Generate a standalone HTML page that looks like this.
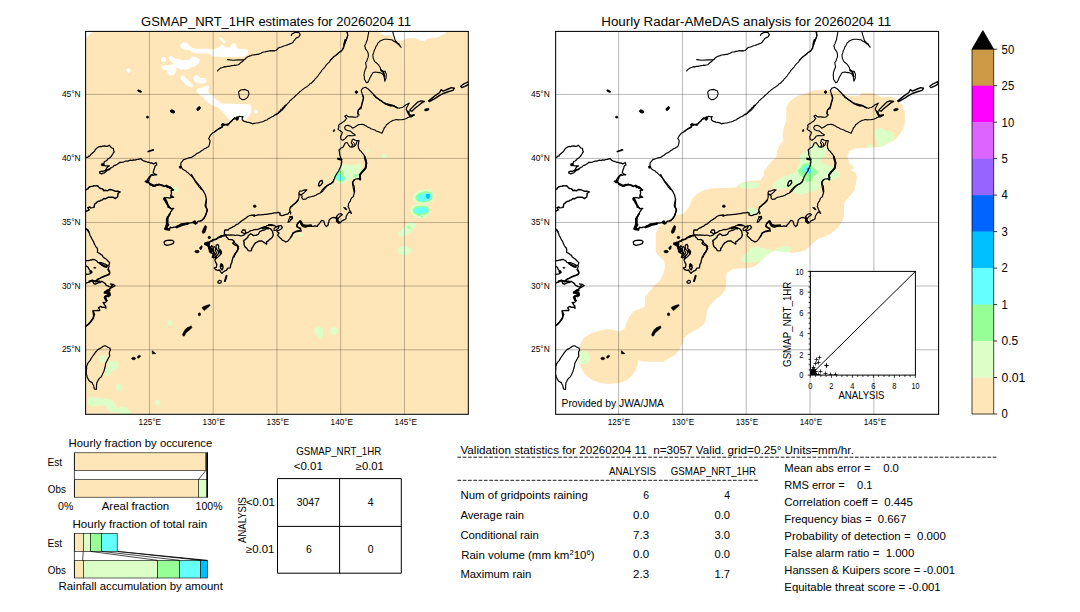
<!DOCTYPE html>
<html><head><meta charset="utf-8"><title>chart</title>
<style>html,body{margin:0;padding:0;background:#fff;}svg{display:block;font-family:"Liberation Sans",sans-serif;fill:#000;}</style></head><body>
<svg width="1080" height="612" viewBox="0 0 1080 612">
<rect width="1080" height="612" fill="#fff"/>
<defs>
<filter id="soft" x="-5%" y="-5%" width="110%" height="110%"><feGaussianBlur stdDeviation="0.55"/></filter>
<clipPath id="mapclip"><rect x="85.6" y="31.4" width="382.7" height="382.9"/></clipPath>
<clipPath id="mapclip2"><rect x="555.65" y="31.4" width="382.95" height="382.9"/></clipPath>
</defs>
<g clip-path="url(#mapclip)">
<rect x="85.5" y="31.5" width="382" height="382" fill="#ffe6b8"/>
<path d="M128.5 67.8L131.1 70.4L128.5 73.1L125.8 70.4Z" fill="#ffffff"/>
<ellipse cx="163.5" cy="59.4" rx="2.50" ry="2.50" fill="#ffffff"/>
<path d="M168.1 57.1L171.1 56.1L175.3 58.5L182.2 59.9L188.5 59.9L191.9 56.4L196.1 57.1L200.0 59.9L198.9 63.3L194.7 66.4L190.6 67.2L188.5 69.6L180.8 69.6L176.7 67.5L176.0 71.7L173.9 75.1L169.7 75.8L167.6 73.1L166.9 70.3L162.8 69.6L161.1 67.2L164.2 65.4L171.1 64.7L173.9 64.0L169.7 59.9Z" fill="#ffffff"/>
<path d="M180.1 46.0L182.2 42.8L185.7 42.2L188.5 44.6L191.9 47.4L196.1 48.8L207.2 48.8L212.8 49.4L218.3 47.4L221.8 44.6L225.3 46.7L229.4 48.1L231.5 43.9L235.0 43.2L235.8 44.6L236.5 48.1L240.0 48.8L246.2 49.2L248.3 50.8L247.6 54.3L244.2 56.4L235.0 57.1L226.7 57.1L212.8 56.4L208.6 53.6L196.1 53.6L191.9 52.2L189.2 50.1L183.6 49.4L180.8 48.1Z" fill="#ffffff"/>
<path d="M219.0 38.3L221.1 36.9L226.0 42.2L223.9 43.6Z" fill="#ffffff"/>
<path d="M180.1 77.9L182.2 75.1L184.3 76.5L193.3 85.6L191.9 87.6L187.8 86.2L182.2 80.7Z" fill="#ffffff"/>
<path d="M193.3 77.9L195.4 75.1L198.2 75.8L200.3 77.9L204.4 77.9L206.9 80.0L205.8 82.5L203.1 83.5L197.5 83.2L194.7 81.4Z" fill="#ffffff"/>
<path d="M196.1 91.1L198.2 88.3L203.1 87.6L207.2 85.6L209.3 86.2L208.3 89.7L208.6 93.2L212.8 94.6L214.2 98.1L218.3 100.8L223.9 105.7L229.4 107.8L235.0 108.5L248.3 108.5L251.8 110.6L249.7 115.4L244.7 120.3L229.4 119.6L223.9 113.3L218.3 107.8L210.0 104.3L205.8 100.8L203.1 97.4L198.9 94.6Z" fill="#ffffff"/>
<ellipse cx="256.0" cy="111.9" rx="1.67" ry="1.67" fill="#ffffff"/>
<path d="M379.3 31.4L381.4 34.2L385.6 35.3L389.7 34.9L392.5 37.6L396.7 40.0L400.8 40.8L404.3 39.7L407.8 38.1L416.1 38.3L420.3 40.8L424.4 40.8L427.2 39.0L431.4 38.1L436.9 37.6L441.1 35.6L445.3 33.5L446.7 31.4Z" fill="#ffffff"/>
<path d="M219.2 103.6L249.7 104.3L251.8 108.5L248.3 112.6L244.9 115.0L228.9 114.7L224.7 111.2Z" fill="#ffffff"/>
<ellipse cx="256.0" cy="111.5" rx="1.81" ry="1.81" fill="#ffffff"/>
<ellipse cx="175.6" cy="189.9" rx="2.79" ry="2.79" fill="#dcffc8"/>
<ellipse cx="169.7" cy="322.9" rx="2.61" ry="2.61" fill="#dcffc8"/>
<path d="M98.9 356.4L103.1 355.0L106.5 357.1L105.8 361.2L102.4 363.3L99.6 360.6Z" fill="#dcffc8"/>
<path d="M107.9 362.6L112.8 360.8L117.6 362.6L118.3 366.8L114.9 370.3L111.4 371.0L110.0 375.1L106.5 376.5L104.4 374.4L105.8 369.6L107.2 366.1Z" fill="#dcffc8"/>
<ellipse cx="118.8" cy="387.6" rx="2.78" ry="3.89" fill="#dcffc8"/>
<path d="M87.5 400.0L89.9 397.6L97.3 397.4L102.2 398.8L105.8 398.6L111.3 400.0L114.4 403.1L116.2 406.8L118.1 408.6L121.8 406.2L126.7 407.4L129.7 411.1L131.0 414.1L119.3 414.1L117.5 411.7L113.2 412.3L108.9 411.1L106.4 408.0L104.6 405.6L100.9 405.0L97.3 406.2L91.1 406.2L88.1 404.3Z" fill="#dcffc8"/>
<ellipse cx="157.6" cy="402.5" rx="2.78" ry="2.78" fill="#dcffc8"/>
<path d="M413.5 194.8L418.1 191.1L425.6 188.9L432.0 190.2L434.4 194.8L433.9 200.4L429.3 203.1L421.9 204.1L416.3 203.1L413.0 199.4Z" fill="#dcffc8"/>
<path d="M415.9 195.2L420.0 192.6L426.5 191.1L431.5 193.0L432.6 197.6L429.6 201.3L422.8 202.6L417.2 201.3L415.4 198.1Z" fill="#96ff96"/>
<path d="M417.2 195.7L420.9 193.9L427.4 193.0L430.7 194.8L430.7 198.9L427.4 200.7L420.9 201.9L417.8 200.0Z" fill="#64ffff"/>
<path d="M426.1 193.9L429.8 193.9L429.8 198.1L427.4 198.9L426.1 197.0Z" fill="#00bfff"/>
<path d="M409.8 208.7L414.4 205.0L423.7 204.1L429.6 205.9L430.7 211.5L427.4 216.1L421.9 218.9L415.4 217.0L410.7 213.3Z" fill="#dcffc8"/>
<path d="M412.6 209.3L416.3 206.3L423.7 205.6L428.3 207.4L429.3 211.5L425.6 214.8L418.1 216.1L413.5 213.3Z" fill="#96ff96"/>
<path d="M414.4 209.6L418.1 207.4L423.7 206.9L427.4 208.7L427.4 211.5L423.7 213.3L418.1 213.7L414.8 212.4Z" fill="#64ffff"/>
<ellipse cx="421.9" cy="217.0" rx="0.93" ry="0.93" fill="#96ff96"/>
<path d="M397.8 232.8L401.5 230.0L405.2 226.3L408.0 222.6L411.7 221.7L415.4 223.5L415.4 227.2L411.7 230.9L408.0 233.7L404.3 236.5L399.6 236.5Z" fill="#dcffc8"/>
<path d="M407.0 226.3L410.7 225.9L409.8 229.1L407.4 228.5Z" fill="#96ff96"/>
<ellipse cx="404.3" cy="250.7" rx="6.48" ry="4.63" fill="#dcffc8"/>
<path d="M314.4 328.5L318.5 326.1L322.8 328.5L322.8 335.0L320.0 339.6L317.2 336.9L314.4 333.1Z" fill="#dcffc8"/>
<ellipse cx="333.9" cy="330.9" rx="3.70" ry="3.70" fill="#dcffc8"/>
<ellipse cx="300.6" cy="235.0" rx="2.22" ry="2.22" fill="#dcffc8"/>
<path d="M333.0 176.0L335.4 172.2L338.6 168.5L342.3 164.8L347.0 163.9L351.7 165.7L356.3 163.9L360.0 164.3L361.4 167.6L361.0 172.2L360.0 176.0L357.2 178.3L352.6 178.8L348.9 179.7L345.1 182.5L340.5 183.9L335.8 182.5L333.5 179.7Z" fill="#dcffc8"/>
<path d="M334.0 175.0L337.7 171.3L342.3 170.4L344.2 173.2L343.7 176.0L345.6 178.3L344.7 180.6L341.4 181.6L337.7 181.1L335.4 178.8Z" fill="#96ff96"/>
<path d="M336.3 177.4L338.6 174.1L340.5 174.1L341.9 176.9L344.7 177.8L343.7 180.2L340.0 180.6L337.2 179.7Z" fill="#64ffff"/>
<ellipse cx="355.4" cy="175.8" rx="1.68" ry="1.68" fill="#96ff96"/>
<ellipse cx="368.0" cy="150.4" rx="1.86" ry="1.86" fill="#dcffc8"/>
<ellipse cx="384.1" cy="156.2" rx="2.33" ry="2.33" fill="#dcffc8"/>
<ellipse cx="414.0" cy="116.6" rx="1.30" ry="1.30" fill="#dcffc8"/>
<path d="M85 31H93L91 33L87 37L85 39.5Z" fill="#ffffff"/>
<line x1="149.55" y1="31" x2="149.55" y2="415" stroke="#000" stroke-opacity="0.26" stroke-width="1"/>
<line x1="213.2" y1="31" x2="213.2" y2="415" stroke="#000" stroke-opacity="0.26" stroke-width="1"/>
<line x1="276.95" y1="31" x2="276.95" y2="415" stroke="#000" stroke-opacity="0.26" stroke-width="1"/>
<line x1="340.7" y1="31" x2="340.7" y2="415" stroke="#000" stroke-opacity="0.26" stroke-width="1"/>
<line x1="404.5" y1="31" x2="404.5" y2="415" stroke="#000" stroke-opacity="0.26" stroke-width="1"/>
<line x1="85" y1="94.4" x2="469" y2="94.4" stroke="#000" stroke-opacity="0.26" stroke-width="1"/>
<line x1="85" y1="158.4" x2="469" y2="158.4" stroke="#000" stroke-opacity="0.26" stroke-width="1"/>
<line x1="85" y1="222.45" x2="469" y2="222.45" stroke="#000" stroke-opacity="0.26" stroke-width="1"/>
<line x1="85" y1="286.0" x2="469" y2="286.0" stroke="#000" stroke-opacity="0.26" stroke-width="1"/>
<line x1="85" y1="349.8" x2="469" y2="349.8" stroke="#000" stroke-opacity="0.26" stroke-width="1"/>
<g fill="none" stroke="#000" stroke-width="1.1" stroke-linejoin="round" stroke-linecap="round">
<path d="M217.5 71.0L218.4 69.9L219.6 68.9L220.6 68.1L221.7 67.7L223.1 67.2L224.5 66.6L226.1 66.8L227.3 66.3L229.0 66.4L230.3 66.0L231.9 65.6L233.2 65.5L234.3 65.2L235.7 65.3L237.1 65.0L238.7 64.7L239.7 63.6L240.5 62.8L241.8 62.1L242.7 61.3L243.8 60.1L245.0 59.3L245.8 58.2L247.0 57.3L248.4 56.5L250.0 55.9L251.1 55.6L252.3 55.0L253.7 54.9L255.4 54.7L256.9 54.4L258.2 54.4L259.5 53.7L261.0 53.3L262.2 52.6L263.4 52.0L265.1 52.0L266.5 51.4L267.7 51.4L268.9 51.0L270.4 50.6L271.7 50.9L273.1 50.6L274.7 50.8L275.9 50.5L277.2 49.4L278.4 48.0L279.7 47.3L281.4 47.0L283.3 46.2L284.3 45.8L285.7 45.5L287.3 44.9L288.4 44.5L289.9 43.9L291.6 43.3L292.8 42.6L293.8 40.9L294.8 39.9L295.7 38.5L297.2 37.6L298.8 37.0L300.2 34.6L298.9 32.6L297.6 32.5L296.0 32.4L294.7 32.4L293.2 33.4L292.1 33.7L291.3 35.5" stroke-width="1.17"/>
<path d="M227.5 59.6L233.1 60.3L238.6 59.9L243.5 59.9" stroke-width="1.08"/>
<path d="M238.6 91.8L240.7 90.0L244.9 89.4L248.3 91.1L249.0 93.9L247.6 97.4L244.9 99.4L242.1 99.7L239.7 97.8L238.9 94.6Z" stroke-width="1.08"/>
<path d="M346.7 31.7L347.1 33.1L347.8 35.1L347.3 36.6L346.8 38.2L346.2 39.6L345.7 41.0L344.7 42.7L344.4 43.7L344.0 45.1L343.5 46.9L342.9 48.5L342.0 50.1L340.8 51.2L339.8 52.1L338.5 52.8L337.7 54.0L336.7 54.8L335.6 55.6L334.3 56.4L333.3 57.2L332.2 58.4L331.2 59.6L330.5 60.5L329.4 62.0L328.4 62.9L327.0 64.1L326.0 65.3L325.1 66.8L324.2 67.8L323.0 69.2L321.8 70.3L321.2 71.6L320.3 72.7L319.2 74.0L318.4 75.3L317.8 76.1L316.7 77.4L316.0 78.1L314.9 79.2L314.1 80.5L312.8 81.5L312.1 82.5L310.8 83.5L309.6 84.1L308.8 85.2L307.5 86.1L306.4 87.0L305.4 87.5L304.1 88.4L303.0 89.3L301.8 90.1L300.7 91.1L299.7 91.8L298.8 92.9L297.7 93.9L296.8 94.7L295.8 95.5L294.8 96.5L293.4 97.8L292.3 98.7L291.3 99.8L289.9 100.8L289.0 102.2L287.8 103.3L286.8 104.4L285.9 105.7L284.8 107.0L283.9 108.1L282.8 109.3L281.7 110.6L280.5 111.4L279.4 112.4L278.4 113.2L277.4 113.8L276.1 114.9" stroke-width="1.08"/>
<path d="M345.3 40.0L344.2 44.6" stroke-width="1.98"/>
<path d="M355.4 92.1L356.4 91.1L357.4 92.1L356.4 93.1Z" stroke-width="1.08"/>
<path d="M347.4 31.7L347.8 35.6L346.4 39.7L344.6 43.9L343.6 48.1L341.8 50.8L337.6 53.6L333.5 57.1L330.0 60.3" stroke-width="1.08"/>
<path d="M368.6 31.7L368.6 33.0L368.2 34.7L368.0 36.1L367.6 37.9L367.4 39.6L366.7 41.2L366.3 42.2L365.9 43.7L365.1 44.9L364.7 46.0L365.3 47.5L365.3 48.7L366.5 50.1L367.4 51.5L368.0 52.7L368.3 54.3L368.4 55.6L368.1 57.4L367.3 59.4L366.8 61.1L365.7 62.5L365.8 64.1L366.1 65.3L366.4 67.0L366.0 68.1L365.1 69.8L364.8 71.1L364.3 72.2L364.3 73.7L363.9 75.3L364.3 76.6L364.3 78.1L364.5 79.5L365.5 80.8L366.4 82.7L367.7 82.4L368.7 80.8L369.4 79.2L370.0 77.8L370.7 76.4L371.5 75.1L372.2 73.8L373.0 72.6L374.3 72.2L375.9 72.0L377.4 72.4L379.5 72.6L380.8 73.0L382.1 73.5L383.1 74.6L384.2 76.0L384.2 77.4L384.5 78.7L384.6 79.9L384.7 81.2L385.4 79.7L386.2 77.8L386.1 76.3L386.4 74.5L385.7 72.8L385.2 71.4L382.6 71.0L380.6 69.8L380.4 68.0L379.6 66.6L378.7 65.2L377.7 64.0L376.5 63.0L375.0 61.9L374.3 60.7L373.8 59.6L373.2 58.3L373.0 56.6L372.8 55.0L373.3 53.7L373.8 52.4L374.1 50.8L374.9 49.3L375.4 48.1L375.7 46.8L376.7 45.6L377.3 44.5L377.8 43.2L379.0 42.1L380.1 41.0L381.8 40.3L383.5 39.5L384.8 39.2L386.1 39.2L387.5 39.3L389.1 39.5L390.5 39.8L391.8 39.8L393.1 40.8L394.1 41.5L395.3 42.0L396.5 42.9L397.4 43.7L398.8 44.5L400.0 46.2L401.1 47.3L400.3 46.3L399.6 45.1L398.8 43.7L397.5 42.9L396.7 42.0L395.6 40.9L394.9 39.6L394.7 38.4L394.2 36.9L393.8 35.6L393.3 34.2L393.1 32.9L392.7 31.8" stroke-width="1.08"/>
<path d="M381.1 70.3L383.5 72.4L384.4 76.5" stroke-width="1.80"/>
<path d="M355.3 92.1L356.4 91.0L357.5 92.1L356.4 93.2Z" stroke-width="1.17"/>
<path d="M409.9 109.9L413.3 106.4L417.5 102.2L421.0 100.8L424.4 101.5L421.7 102.9L418.2 105.7L414.7 108.5L411.9 111.2L409.9 110.6Z" stroke-width="1.35"/>
<path d="M428.6 100.8L432.1 98.1L435.6 95.3L439.7 92.5L441.1 89.7L443.2 91.1L448.1 89.0L451.5 87.6L454.3 88.3L452.9 90.4L448.1 91.8L443.9 93.2L439.7 95.3L435.6 98.1L432.1 100.1L429.3 101.5Z" stroke-width="1.44"/>
<path d="M460.6 86.2L463.3 84.2L466.8 82.5L468.9 81.7L468.9 84.2L465.4 86.2L461.9 87.6Z" stroke-width="1.35"/>
<path d="M85.0 158.1L85.8 157.4L87.7 157.3L88.6 156.1L89.6 156.1L90.5 154.8L91.4 153.9L93.0 152.6L93.9 151.8L94.8 150.8L95.2 149.8L96.6 148.2L97.3 147.8L98.8 146.8L100.0 146.5L101.5 146.6L102.6 146.2L104.7 145.8L106.2 146.4L107.6 146.2L109.2 145.2L111.1 147.4L112.0 148.0L113.3 148.3L113.6 150.4L114.3 151.9L113.4 152.7L112.8 154.0L111.7 155.6L111.3 156.4L110.1 157.5L109.5 158.1L108.3 158.5L107.4 159.8L106.1 161.0L104.3 161.5L104.1 163.0L103.0 164.6L104.3 165.6L106.3 165.9L107.7 165.9L109.4 166.0L107.6 166.8L106.3 168.6L105.8 170.0L107.9 170.2L109.3 168.8L107.9 169.7L106.8 170.7L105.6 171.7L104.5 172.9L103.3 173.1L101.6 173.8L99.5 172.9L99.9 171.5L102.1 171.1L103.1 171.3L104.8 170.7L105.6 170.1L107.5 169.7L109.7 169.5L110.8 167.9L111.2 167.8L113.1 166.8L114.2 165.4L115.5 165.3L117.2 164.3L118.8 163.2L119.4 162.5L121.1 162.4L122.9 162.1L124.0 161.8L125.2 161.2L126.3 161.1L127.8 161.1L129.6 160.4L130.5 160.2L132.3 160.5L133.3 159.8L135.0 160.1L136.3 159.7L137.9 159.4L139.0 159.1L141.0 158.6L141.9 159.5L142.4 160.3L144.8 161.4L145.9 161.5L147.5 162.3L148.8 162.2L150.4 163.0L151.8 162.9L153.6 164.0L156.0 162.4L156.8 164.9L155.5 165.5L154.9 166.6L154.6 168.0L153.9 169.8L153.4 171.7L153.1 172.8L154.5 173.7L156.7 174.8L154.6 174.6L153.0 175.3L151.3 174.7L150.2 176.1L149.9 177.6L149.1 179.4L148.6 180.5L146.5 181.6L145.6 181.2L147.3 181.8L148.8 181.9L149.3 183.0L150.1 184.7L152.1 185.2L153.5 186.0L154.3 186.1L156.1 185.3L156.8 184.8L158.8 185.2L160.4 184.7L162.8 185.1L164.1 186.5L165.8 185.5L166.5 185.2L168.7 187.4L169.9 188.3L171.0 188.1L172.6 189.3L173.0 190.2" stroke-width="1.26"/>
<path d="M148.2 151.5L153.3 149.9" stroke-width="1.80"/>
<path d="M235.0 117.5L233.9 118.4L232.7 119.7L232.1 120.7L231.0 121.5L229.8 122.6L229.2 123.7L228.0 124.3L226.6 124.7L225.5 124.8L224.0 125.2L221.9 124.6L222.2 125.8L222.4 127.2L221.2 127.7L219.6 128.7L218.2 129.1L216.7 130.3L215.5 131.4L214.3 132.3L212.9 132.8L211.7 133.9L210.8 134.8L209.9 136.0L209.4 137.3L208.7 138.5L209.4 139.6L210.1 141.0L209.8 142.4L209.6 143.8L209.2 145.2L208.5 146.8L207.3 147.3L205.8 148.3L204.4 148.6L203.2 149.7L201.9 150.4L200.3 151.7L199.0 152.6L197.3 153.3L195.9 154.2L194.9 155.3L193.5 156.1L192.1 157.1L190.2 157.7L188.9 157.8L187.1 158.5L185.2 159.1L183.5 159.7L182.3 161.3L181.2 162.5L180.8 164.3L180.9 166.0L181.4 167.4L182.4 168.9L183.2 169.4L184.5 170.3L185.8 170.8L186.7 172.0L188.0 172.7L189.1 173.9L190.2 174.9L191.4 176.0L192.8 177.4L193.5 178.5L194.6 179.9L195.2 181.6L196.3 182.9L197.2 184.3L198.2 185.4L198.8 186.6L200.0 187.8L200.6 188.7L201.6 189.7" stroke-width="1.17"/>
<path d="M285.8 105.0L284.7 105.8L284.0 107.1L282.8 107.8L282.3 109.0L281.0 109.4L280.5 110.8L279.3 111.2L278.7 112.3L277.7 113.4L276.3 114.1L274.9 115.0L273.3 116.3L272.3 116.6L270.7 117.4L269.7 118.1L268.2 118.7L267.4 119.8L265.8 120.2L265.0 120.5L263.8 121.2L262.3 121.8L260.9 122.0L259.4 122.5L258.0 122.9L256.6 123.0L255.0 123.3L253.9 123.3L252.7 123.9L251.1 123.1L249.7 122.6L248.1 122.3L246.7 122.1L245.6 121.6L244.2 121.4L243.3 120.8L242.1 119.3L242.4 118.1L243.0 116.6L241.3 116.8L239.4 116.3L238.1 117.4L237.2 118.5L235.7 118.3L233.9 119.1L232.6 119.7L232.1 120.5L231.2 121.5L230.0 122.4L228.7 123.8L227.3 124.3L226.1 124.3L224.4 124.3L223.1 124.7L222.4 126.1L221.1 127.4L219.9 127.9L219.0 128.5L218.0 129.3L216.4 130.4L214.8 131.4" stroke-width="1.17"/>
<path d="M362.8 95.0L363.3 96.4L363.7 97.7L363.4 99.2L362.8 100.7L362.3 101.8L362.0 103.2L361.8 104.7L361.5 106.4L361.0 108.6L359.7 109.0L358.4 109.7L357.8 112.2L358.0 113.8L358.2 114.9L357.8 116.7L355.2 117.3L353.6 117.1L352.0 116.9L350.5 116.8L348.9 116.9L347.5 116.3L346.4 115.1L344.8 116.3L346.7 118.4L345.8 119.3L344.9 120.7L343.8 121.5L342.4 122.4L341.4 123.3L339.9 124.0L338.4 125.3L339.0 127.0L338.0 129.1L338.9 129.9L340.2 130.7L341.1 131.6L342.3 132.3L341.7 134.4L340.6 136.8L341.0 139.4L342.9 140.3L343.8 139.5L345.2 138.6L346.2 137.5L346.9 136.3L348.3 135.8L349.7 135.6L351.5 135.8L353.1 135.7L355.4 135.0L354.1 134.1L352.5 133.2L351.6 132.1L350.4 131.1L348.8 130.7L347.6 130.6L345.2 129.4L344.6 127.5L345.5 125.9L348.0 125.3L349.4 125.9L350.7 126.3L351.7 127.3L352.6 128.2L354.9 127.0L356.0 126.2L357.1 125.4L358.7 124.6L360.3 124.5L362.1 124.4L363.6 124.6L365.1 125.5L366.3 126.1L367.3 126.7L368.7 127.4L370.1 128.1L371.0 128.7L372.6 129.3L373.5 129.5L374.8 130.0L376.3 130.9L377.5 131.4L378.7 131.7L380.1 132.4L382.0 133.2L382.5 132.1L383.1 130.7L383.7 129.5L384.2 128.0L385.2 127.0L386.0 125.9L386.4 124.8L387.9 123.8L389.3 122.6L391.0 121.4L392.8 120.4L394.6 120.0L396.1 119.5L398.3 119.9L399.9 119.7L401.7 119.7L403.2 119.4L404.9 119.0L406.5 118.5L407.9 117.5L409.5 116.9L411.5 116.9L412.7 116.1L414.1 115.1L412.5 115.2L410.7 115.4L409.8 114.4L408.6 113.4L409.3 112.1L407.7 111.3L406.1 109.6L406.5 108.0L407.1 106.8L407.9 105.5L408.4 104.2L409.2 103.1L407.6 104.0L406.0 104.7L404.9 105.7L403.4 106.6L402.6 107.5L400.6 107.7L399.2 108.2L397.6 107.7L396.2 107.5L395.0 106.5L393.5 105.6L391.9 105.3L389.7 105.0L387.8 104.3L386.3 104.0L385.0 103.0L383.5 102.4L382.2 101.4L381.1 100.5L379.9 100.1L378.7 99.2L377.6 98.4L376.3 97.7L375.4 97.0L374.6 95.9L373.6 95.1" stroke-width="1.12"/>
<path d="M407.5 111.6L409.9 116.2L414.0 115.0" stroke-width="1.80"/>
<path d="M387.0 104.1L393.6 105.9L397.3 107.8" stroke-width="1.62"/>
<path d="M320.9 192.0L322.3 189.8L323.6 188.7L324.8 187.2L326.2 186.3L327.5 185.3L328.6 184.7L329.8 184.0L331.3 183.5L332.2 182.4L333.0 181.5L333.8 179.9L334.5 178.5L335.0 176.7L336.0 175.0L336.6 174.2L337.2 172.9L338.0 171.9L339.0 170.5L339.2 169.3L340.0 168.1L340.6 166.5L341.4 164.8L341.5 163.4L341.8 161.6L341.4 160.0L340.8 158.5L340.4 156.7L339.9 155.4L339.6 154.1L339.5 152.8L339.3 151.2L339.0 150.0L340.2 149.0L340.8 148.2L343.2 147.0L344.2 144.9L345.1 143.0L347.0 142.5L348.3 144.5L349.0 145.5L349.9 146.8L351.6 147.0L352.6 144.6L351.3 142.9L351.8 141.4L352.1 140.0L353.5 139.1L354.7 140.0L356.2 140.5L357.6 140.6L359.1 140.6L358.8 141.9L358.5 143.5L358.1 145.2L358.4 146.8L358.5 148.2L359.2 149.2L359.8 150.6L361.0 151.2L361.8 152.3L362.9 153.7L363.8 154.9L364.9 156.5L365.1 158.2L365.9 159.8L366.3 161.5L366.7 163.1L366.3 164.4L366.4 165.8L365.9 167.3L365.5 168.4L364.5 169.5L363.8 170.7L362.6 171.6L361.4 172.7L360.5 173.8L359.4 174.7L360.5 176.9L360.3 178.4L360.0 179.7L358.4 178.6L355.9 179.0L354.6 179.8L353.8 180.8L352.5 183.2L352.7 184.6L352.9 186.0L353.3 187.9L353.6 189.6L354.2 192.0" stroke-width="1.17"/>
<path d="M351.7 147.1L354.0 146.6L355.8 144.8L356.8 142.0L357.2 140.6" stroke-width="1.08"/>
<path d="M353.1 142.0L354.6 143.8L354.0 145.7" stroke-width="0.99"/>
<path d="M338.2 158.8L341.4 159.3" stroke-width="2.34"/>
<path d="M364.7 156.9L366.3 162.9L365.6 168.1L361.9 172.2L359.9 175.0L360.2 179.5" stroke-width="1.98"/>
<path d="M333.8 179.5L333.3 182.0L332.0 182.8L330.9 183.7L329.7 184.3L328.3 185.1L327.0 186.0L325.9 187.2L325.1 188.2L324.2 189.1L323.4 190.3L322.2 191.5L320.5 192.7L319.7 193.3L318.0 193.9L316.8 194.6L315.9 195.2L314.6 195.7L313.5 196.1L311.7 196.5L310.1 197.0L308.7 197.2L307.3 197.7L305.9 199.2L304.3 199.2L303.2 199.5L301.7 197.6L302.2 196.0L300.3 194.8L298.8 193.0L299.7 191.1L301.2 191.1L302.4 190.7L303.8 190.1L305.5 189.8L306.9 189.8L305.1 191.6L303.5 193.2L301.9 194.4L300.2 194.7L298.9 193.8L298.9 195.1L299.1 196.8L298.7 198.4L298.2 199.7L297.1 200.7L296.1 202.2L294.8 203.4L293.1 204.8L292.2 205.8L291.0 206.4L290.1 207.6" stroke-width="1.17"/>
<path d="M318.4 185.6L319.1 182.8L320.3 180.9L322.1 180.5L322.6 182.8L321.2 184.7L319.3 186.1Z" stroke-width="1.35"/>
<path d="M354.2 179.5L353.4 180.9L352.4 182.1L353.1 183.0L353.1 184.7L354.0 185.8L354.3 187.6L354.4 189.5L354.7 191.0L354.3 192.6L354.0 194.1L353.5 195.5L353.2 196.8L351.5 198.1L350.7 199.7L350.3 201.1L349.4 202.2L348.4 204.0L348.5 205.3L348.1 206.6L348.9 208.1L349.2 209.2L350.0 210.9L350.9 212.2L351.5 213.5L350.4 212.6L348.9 212.0L348.2 213.1L347.4 214.2L346.1 216.5L346.0 218.8L344.0 219.9L341.9 220.9L340.4 222.6L338.3 223.1L337.5 222.3L336.4 221.1L336.5 219.4L336.1 218.3L337.0 215.7L337.8 215.0L339.0 214.0L341.0 213.7L342.3 214.8L341.0 215.8L340.0 216.3L338.4 218.2L337.8 220.3" stroke-width="1.17"/>
<path d="M336.1 218.2L333.6 217.4L331.4 218.0L329.5 219.6L328.9 220.7L328.9 222.3L328.1 223.8L328.2 225.0L326.4 226.5L324.9 224.9L324.4 223.1L323.7 221.0L321.7 220.4L320.9 221.4L320.1 222.5L319.3 223.8L318.3 224.4L317.3 226.4L314.9 225.8L313.3 226.3L311.4 226.4L309.8 226.0L307.7 226.3L306.1 227.0L304.8 227.1L303.6 226.8L302.2 226.0L301.4 224.7L301.0 224.1L301.0 221.2L299.6 220.9L298.6 223.1L297.2 224.4L296.7 226.7L298.9 227.8L300.4 228.7L301.3 231.0L299.0 231.1L297.5 231.6L295.8 231.6L294.5 232.4L293.2 233.3L292.4 234.5L292.0 235.6L291.5 236.8" stroke-width="1.26"/>
<path d="M301.0 222.4L302.6 225.2L306.3 225.8L310.9 225.4" stroke-width="2.34"/>
<path d="M336.6 217.2L337.5 221.0L339.3 222.4" stroke-width="1.98"/>
<path d="M289.5 211.2L290.9 212.6L290.5 214.0" stroke-width="1.17"/>
<path d="M289.5 216.8L291.9 217.2L292.3 218.6L290.5 219.6" stroke-width="1.17"/>
<path d="M206.5 199.5L205.6 202.8L205.1 205.6L206.5 208.4L207.4 210.2L206.5 213.0L205.6 215.8L204.2 218.2L202.3 220.0L200.0 221.2" stroke-width="1.26"/>
<path d="M224.7 230.7L224.9 230.0L226.4 230.0L228.1 230.0L229.1 228.8L230.5 228.1L232.1 227.4L233.2 226.6L234.6 226.1L235.8 225.1L236.8 224.3L238.3 223.8L239.2 223.0L240.5 221.8L241.7 220.8L243.3 219.9L244.2 219.1L245.5 218.4L246.6 217.5L247.7 216.5L249.4 215.7L250.7 215.3L252.3 215.2L253.9 215.6L256.1 215.4L257.5 215.0L259.3 214.8L260.6 214.8L262.2 214.6L263.5 214.6L264.5 214.3L266.3 214.4L267.3 214.1L269.1 213.8L270.3 213.6L271.5 213.6L273.2 213.1L274.3 212.8L276.4 212.8L278.1 212.4L280.1 213.1L279.8 214.9L281.8 215.6L283.4 215.3L284.8 214.7L286.3 214.3L287.7 214.1L288.7 212.8L290.1 212.1L289.6 209.7L289.9 208.8L290.7 207.3L291.9 206.3L292.9 205.1L294.5 204.0L295.7 202.9L297.2 201.6L298.1 200.1" stroke-width="1.26"/>
<path d="M224.7 230.7L224.3 233.2L225.3 235.1L228.2 234.9L229.3 235.1L230.7 234.9L232.9 235.1L234.3 235.1L235.7 235.5L237.0 235.0L239.0 235.3L240.2 235.9L242.2 235.6L243.9 235.1L244.9 234.1L242.8 232.8L241.4 232.1L242.7 230.0L245.1 230.0L245.7 232.3L244.9 234.0L246.7 232.9L248.1 232.4L249.3 231.4L250.9 230.7L252.3 230.5L254.2 229.7L255.2 229.5L256.8 229.6L258.4 229.1L259.8 228.6L260.7 228.1L262.7 228.0L263.6 227.3L265.3 226.9L267.1 225.6L268.9 225.4L270.5 224.7L272.9 225.4L274.8 225.7L276.5 226.8L278.4 225.8L279.7 225.7L281.1 225.5L282.4 227.3L281.5 228.7L280.3 229.5L279.4 230.1L276.7 230.8L277.5 231.9L279.0 233.1L278.1 234.4L277.8 235.6L278.7 236.6L280.0 237.7L281.1 238.7L282.2 240.1L284.2 241.0L285.7 242.0L287.8 241.1L288.9 239.8L289.9 238.6L290.7 237.1L291.5 235.9L292.3 234.5L292.8 233.0L294.7 232.0L295.9 231.2L297.2 231.2L298.6 230.7L300.4 230.0" stroke-width="1.26"/>
<path d="M262.4 227.9L265.2 227.5L268.0 228.4" stroke-width="2.34"/>
<path d="M268.9 225.0L273.6 225.3" stroke-width="1.80"/>
<path d="M274.0 228.4L276.4 226.8L279.1 226.5L278.2 228.4L275.6 230.5L274.0 230.3Z" stroke-width="1.17"/>
<path d="M288.0 222.3L288.9 219.6L290.3 216.8L292.2 216.3L292.6 218.2L290.8 220.0L289.4 221.9Z" stroke-width="1.17"/>
<path d="M300.6 221.2L297.8 222.8L296.8 225.6L298.7 227.9L300.6 228.1" stroke-width="1.35"/>
<path d="M244.2 242.4L243.5 240.9L244.1 240.1L245.4 239.6L246.3 238.5L247.8 237.4L248.2 235.7L249.5 234.8L250.8 233.7L252.1 234.5L253.2 235.5L254.6 235.3L256.0 235.3L258.4 234.2L259.1 232.8L259.7 231.7L261.0 231.2L262.4 230.2L264.0 230.2L265.2 229.5L266.5 228.7L268.1 227.8L269.3 228.4L270.7 228.8L271.9 230.5L272.6 231.6L272.9 233.2L273.3 235.0L272.9 235.8L272.4 237.1L271.0 238.6L269.6 239.4L268.2 241.0L266.7 241.6L266.6 244.2L265.7 243.5L264.3 242.7L262.9 241.7L261.6 240.9L260.0 241.0L258.6 241.2L257.4 241.9L255.6 242.8L254.6 244.0L253.6 245.4L252.9 246.8L251.6 248.5L251.5 250.7L249.8 250.9L248.2 250.6L247.8 249.8L246.6 248.2L245.9 247.6L244.9 246.8L244.0 244.2L244.0 242.2Z" stroke-width="1.35"/>
<path d="M224.7 234.9L223.1 235.4L221.1 235.6L220.1 236.4L218.5 237.2L217.6 237.5L216.2 239.4L214.5 240.0L212.6 240.3L211.9 241.3L210.4 241.6L208.8 242.4L207.2 243.0L206.3 244.2L205.2 244.6L206.6 245.3L208.1 246.2L208.5 247.2L209.1 249.2L209.4 250.6L209.6 251.2L211.0 252.9L213.2 253.9L213.7 255.7L212.2 257.3" stroke-width="1.26"/>
<path d="M225.6 234.9L226.6 237.2L227.7 238.1L228.6 239.3L230.3 239.6L231.6 239.6L232.7 240.0L234.2 241.2L233.2 242.4L232.8 243.2L233.8 244.3L234.9 245.0L235.9 245.3L237.4 245.9L237.8 247.5L238.6 248.6L237.8 249.4L237.2 250.6L236.8 251.8L235.9 252.8L235.2 254.4L234.4 255.6L233.8 257.2" stroke-width="1.35"/>
<path d="M233.8 242.4L235.1 243.2L236.3 244.2L237.3 245.1L238.5 246.5L237.9 248.2L237.7 249.3L237.5 250.3L236.5 252.0L235.8 252.7L234.6 254.2L233.9 255.8L233.1 257.2L232.8 258.3L232.3 259.9L232.0 261.4L231.7 263.0L230.9 264.2L230.6 265.5L230.3 267.8L227.7 268.1L226.6 270.1L225.5 270.7L224.5 271.2L223.2 272.0L221.9 273.4L220.6 271.9L219.5 270.0L217.8 270.4L215.5 269.6L214.3 267.9L216.3 267.3L216.8 264.7L216.6 263.8L215.9 262.7L215.2 260.9L215.0 259.8L216.4 257.7L214.7 257.7L213.4 257.2L213.1 254.9L214.8 253.4L213.5 251.6L213.2 250.3L212.0 248.6L210.9 248.1L209.9 247.5L208.3 245.6L207.6 244.8L206.5 244.4L205.0 244.1L206.2 243.5L207.6 242.1L209.3 242.2L210.3 241.2L212.1 240.7L213.0 239.5L214.9 239.4L216.8 239.0L218.4 237.8L219.6 237.4L220.9 237.1L222.4 236.1L224.8 235.9" stroke-width="1.35"/>
<path d="M221.2 263.9L222.6 264.8L223.1 267.6L222.1 269.9L220.7 268.5L220.3 266.2Z" stroke-width="1.35"/>
<path d="M204.9 244.4L206.2 243.1L208.5 242.6L209.4 244.0L208.5 245.3L209.8 246.7L208.9 248.5L210.3 249.8L209.4 251.6L210.7 252.5L212.1 251.2L211.6 249.4L210.7 247.6L211.6 245.8L213.0 247.1L213.4 249.4L213.0 251.6L214.3 253.0L213.4 254.8L212.5 256.6L213.4 257.9L214.8 257.0L216.1 255.7" stroke-width="1.35"/>
<path d="M216.1 245.3L217.9 244.4L218.8 246.2L218.4 248.5L220.2 249.8L221.5 251.6L221.1 253.9L219.7 255.2L218.4 256.6L217.0 257.9L215.7 257.5L216.6 255.7L217.9 254.3L218.8 252.5L217.9 250.7L216.6 249.4L216.1 247.6Z" stroke-width="1.26"/>
<path d="M214.3 246.7L215.7 248.5L215.2 250.7L216.6 252.5L215.7 254.3L214.3 255.2" stroke-width="1.17"/>
<path d="M205.3 243.5L208.9 244.0" stroke-width="2.70"/>
<path d="M208.5 245.8L211.2 252.1" stroke-width="1.98"/>
<path d="M219.3 250.3L220.6 253.4" stroke-width="1.80"/>
<path d="M221.1 264.6L221.8 266.0" stroke-width="2.34"/>
<path d="M226.5 275.8L225.8 278.3L224.8 281.1" stroke-width="1.98"/>
<path d="M217.9 281.4L219.6 280.2L221.3 281.1L221.1 282.7L219.4 283.4L217.9 282.7Z" stroke-width="1.17"/>
<path d="M152.3 174.5L151.2 175.7L149.3 176.8L148.8 177.7L147.7 179.4L147.1 180.4L146.8 181.1L145.2 181.5L147.0 182.6L148.4 182.5L150.5 184.5L151.5 184.3L152.3 184.6L154.1 186.3L155.4 185.5L157.2 185.4L159.0 184.0L161.0 185.2L163.1 186.0L164.0 186.4L165.5 185.8L167.5 187.5L170.1 186.9L170.4 188.0L171.5 188.9L173.6 189.8L171.0 190.6L171.5 191.9L171.4 193.4L170.6 196.2L172.3 196.2L173.6 197.3L172.2 197.4L170.5 197.7L169.9 198.1L167.3 197.6L166.8 197.6L164.5 197.8L163.9 199.8L165.0 200.5L166.3 202.2L166.7 203.9L167.4 204.5L167.7 205.6L168.1 207.4L170.2 207.6L170.6 208.7L173.7 208.5L172.0 209.5L171.8 210.6L170.3 212.4L170.2 213.7L169.0 215.1L168.3 216.6L167.4 216.9L167.3 218.9L167.1 220.4L167.5 222.0L167.2 223.0L167.6 223.9L168.7 224.8L167.9 225.8L166.7 227.7L165.4 227.8L164.8 229.1L167.5 229.4L169.5 228.9L170.4 227.1L171.2 227.6L172.8 227.5L174.0 227.1L175.8 227.0L177.5 225.8L178.2 225.7L179.9 224.9L180.9 223.9L182.4 223.8L184.5 223.9L185.8 224.2L187.3 224.0L188.5 222.9L189.8 223.1L190.8 222.8L192.9 222.5L193.9 221.3L195.0 221.0L195.4 221.7L196.8 223.4L197.0 222.4L198.3 221.2L200.0 220.9L201.8 220.5" stroke-width="1.35"/>
<path d="M150.0 183.8L153.7 186.0L157.0 184.8" stroke-width="2.07"/>
<path d="M167.2 186.2L171.0 188.0" stroke-width="1.98"/>
<path d="M164.5 198.3L166.8 202.9" stroke-width="2.52"/>
<path d="M166.8 202.9L169.6 207.6" stroke-width="1.80"/>
<path d="M169.6 214.1L167.2 218.8" stroke-width="1.80"/>
<path d="M167.2 218.8L167.2 224.3L165.8 228.5" stroke-width="2.70"/>
<path d="M165.8 229.0L169.1 229.5" stroke-width="2.52"/>
<path d="M176.6 227.1L182.1 224.8L187.7 223.6" stroke-width="2.52"/>
<path d="M193.8 222.3L195.6 223.4" stroke-width="2.52"/>
<path d="M191.5 174.5L193.3 177.8L195.2 180.6L197.5 183.4L199.8 186.2L202.2 189.4L204.0 192.2L205.4 195.0L206.2 198.3L206.4 201.5L205.9 204.8L206.2 207.6L207.1 209.0L206.8 211.3L205.9 214.1L205.0 216.0L203.6 218.3L201.7 220.6" stroke-width="1.26"/>
<path d="M85.0 190.4L86.0 189.6L88.0 188.8L88.3 187.9L89.9 186.7L91.5 186.4L92.9 186.2L94.0 185.8L95.3 185.9L97.2 185.6L98.2 186.4L99.4 187.9L100.6 188.5L102.0 188.6L103.4 189.9L103.7 190.7L105.4 190.3L107.3 190.9L108.6 190.0L110.0 189.5L110.8 189.7L112.0 189.8L113.3 190.3L115.0 191.2L116.6 191.3L118.0 191.1L120.1 191.9L118.0 193.4L117.9 195.7L117.5 197.0L116.3 197.7L115.5 198.5L114.1 197.8L112.8 197.2L111.6 197.2L108.8 197.3L108.2 197.3L106.6 198.2L105.8 198.7L103.7 198.5L102.3 199.9L101.0 200.2L99.9 201.0L98.8 201.2L97.0 202.0L95.9 203.2L95.2 203.4L94.4 204.9L94.3 207.0L92.7 207.6L90.7 207.9L89.8 207.0L87.8 207.7L89.1 209.8L87.2 211.0L84.6 211.3" stroke-width="1.44"/>
<path d="M85.0 228.1L85.9 228.5L87.8 229.9L89.2 232.0" stroke-width="1.26"/>
<path d="M85.0 228.3L86.2 229.5L87.4 229.8L88.0 231.0L88.9 232.5L89.6 233.7L90.0 235.5L90.9 236.8L92.0 239.1L92.6 240.1L93.7 241.8L94.2 243.6L95.1 245.3L96.2 247.2L97.2 248.0L97.6 249.9L97.4 252.2L98.4 252.8L99.3 253.2L101.0 254.6L102.5 255.4L102.8 256.6L103.8 257.6L104.9 258.2L106.0 258.9L106.8 259.8L108.2 261.2L109.7 262.6L109.0 264.9L107.2 266.2L104.7 266.2L103.6 265.2L102.3 264.4L100.8 263.6L99.8 263.0L97.7 262.3L96.5 260.7L94.6 259.7L92.6 259.4L91.6 260.0L90.0 260.2L88.7 260.6L86.6 260.7L85.3 261.0" stroke-width="1.26"/>
<path d="M99.0 262.7L101.8 262.7L105.0 264.1L107.8 265.5L105.9 266.4L102.7 265.5L99.9 264.1Z" stroke-width="1.17"/>
<path d="M101.3 265.0L104.6 266.9L106.9 267.4" stroke-width="1.17"/>
<path d="M109.2 266.0L108.3 268.8L109.7 271.6L109.7 273.4L107.3 274.8L104.6 275.7L101.8 277.1L99.4 278.5L97.1 280.4L95.7 282.0" stroke-width="1.17"/>
<path d="M85.0 265.8L86.4 266.0L88.3 267.4L89.2 269.7L91.1 271.1L92.0 272.5L89.7 273.9L86.9 274.3L85.0 274.2" stroke-width="1.26"/>
<path d="M89.2 281.3L92.4 280.4L94.3 281.3L99.9 281.3" stroke-width="1.80"/>
<path d="M164.1 241.8L166.0 240.6L169.3 240.1L172.5 240.4L173.9 241.8L173.0 243.6L170.2 244.7L166.9 245.3L164.6 244.4Z" stroke-width="1.26"/>
<path d="M107.8 269.5L109.7 272.8L109.2 274.7L106.4 275.6L103.2 277.0L99.9 278.4L97.1 279.3L96.2 281.2L93.8 280.7L91.5 281.0L89.2 282.1L85.0 283.5" stroke-width="1.26"/>
<path d="M92.9 281.6L93.6 283.5L95.4 284.2L97.5 283.2L98.9 282.3L100.5 282.5L101.9 281.3L104.3 283.0L105.1 283.3L106.3 285.3L107.7 285.9L108.9 286.6L111.0 286.9L112.4 285.1L110.4 284.0L113.1 284.3L115.0 285.7L112.5 287.1L110.2 288.3L109.5 289.1L108.8 289.8L107.3 290.0L106.4 291.0L105.5 291.4L104.2 293.0L106.2 292.9L107.5 292.5L109.5 291.9L110.0 293.7L110.2 295.2L108.3 296.7L106.1 295.9L104.3 297.2L105.7 299.6L107.2 300.5L105.3 302.6L103.1 302.4L104.6 304.9L105.6 305.8L105.9 308.3L104.4 307.1L102.2 307.4L100.6 306.4L98.5 307.8L99.9 310.0L99.0 310.7L97.5 310.4L94.9 310.6L93.2 310.9L93.5 311.9L94.6 314.4L93.4 316.6L93.5 318.3L92.7 319.3L91.3 320.7L90.2 322.4L89.2 323.2L88.6 324.4L86.4 325.5L84.9 327.4" stroke-width="1.35"/>
<path d="M109.4 290.0L105.0 292.3L109.4 294.4L105.3 296.8L105.9 299.8" stroke-width="2.34"/>
<path d="M92.9 311.0L93.8 316.6L90.6 322.1L86.4 325.9" stroke-width="1.35"/>
<path d="M86.4 366.8L87.1 365.5L87.4 363.9L88.2 362.8L89.0 361.6L90.0 360.6L90.7 359.4L91.6 357.8L92.5 356.5L93.7 354.9L94.6 353.7L95.3 352.2L96.3 351.5L97.1 350.4L98.2 349.4L99.4 348.9L100.4 348.2L101.6 347.5L103.2 346.3L104.6 345.8L105.8 345.9L107.1 346.9L108.4 347.5L109.9 348.1L110.5 350.0L109.4 352.1L109.4 354.1L109.8 355.8L109.3 356.7L108.4 358.1L108.0 359.0L107.2 360.4L106.5 361.8L105.6 363.5L105.5 364.9L105.2 366.1L105.0 367.5L104.5 369.0L104.1 370.4L103.8 371.5L103.0 373.1L102.5 374.4L101.6 376.0L100.9 377.1L99.7 378.0L98.8 379.1L98.0 380.5L97.5 381.6L96.8 382.6L96.7 384.2L96.5 385.6L96.5 387.1L96.3 389.5L94.4 389.0L94.0 387.5L93.6 385.5L92.7 384.0L92.1 382.6L90.6 381.9L89.1 380.7L88.4 379.4L87.7 378.2L87.2 377.3L86.9 375.7L86.5 374.4L86.2 373.1L86.3 371.5L86.5 369.7L86.7 368.2L86.4 367.0Z" stroke-width="1.17"/>
<path d="M359.2 115.0L357.8 113.3L358.5 109.9L361.2 106.4L362.6 102.2L363.3 98.1L362.2 93.9L361.2 90.4L362.6 88.3L365.4 87.2L368.2 89.0L371.7 92.5L375.8 96.7L380.7 100.8L385.6 104.3L391.1 106.1" stroke-width="1.12"/>
</g>
<g fill="#000" stroke="#000" stroke-width="0.5">
<ellipse cx="139.6" cy="91.1" rx="2.22" ry="0.97" transform="rotate(25 139.6 91.1)"/>
<ellipse cx="172.5" cy="111.4" rx="2.22" ry="1.39" transform="rotate(20 172.5 111.4)"/>
<ellipse cx="198.6" cy="108.6" rx="2.22" ry="1.11" transform="rotate(-45 198.6 108.6)"/>
<ellipse cx="426.8" cy="109.6" rx="2.50" ry="1.11" transform="rotate(-15 426.8 109.6)"/>
<ellipse cx="102.8" cy="164.7" rx="1.67" ry="1.39" transform="rotate(0 102.8 164.7)"/>
<ellipse cx="147.5" cy="117.2" rx="1.25" ry="1.11" transform="rotate(0 147.5 117.2)"/>
<ellipse cx="172.5" cy="111.5" rx="2.22" ry="1.39" transform="rotate(20 172.5 111.5)"/>
<ellipse cx="198.6" cy="108.5" rx="2.22" ry="1.25" transform="rotate(-45 198.6 108.5)"/>
<ellipse cx="180.3" cy="167.1" rx="1.11" ry="1.39" transform="rotate(0 180.3 167.1)"/>
<ellipse cx="222.8" cy="124.7" rx="1.25" ry="0.97" transform="rotate(0 222.8 124.7)"/>
<ellipse cx="227.4" cy="124.9" rx="1.11" ry="0.83" transform="rotate(0 227.4 124.9)"/>
<ellipse cx="237.2" cy="118.5" rx="1.53" ry="1.94" transform="rotate(20 237.2 118.5)"/>
<ellipse cx="223.1" cy="124.7" rx="1.39" ry="1.25" transform="rotate(0 223.1 124.7)"/>
<ellipse cx="334.0" cy="130.6" rx="0.74" ry="1.21" transform="rotate(20 334.0 130.6)"/>
<path d="M343.3 207.3L345.9 207.7L347.0 210.0L345.1 209.4Z"/>
<path d="M205.1 225.3L206.7 226.4L206.0 229.8L204.8 232.8L202.8 233.5L202.0 231.8L203.4 228.4Z"/>
<ellipse cx="209.3" cy="237.5" rx="1.21" ry="1.12" transform="rotate(0 209.3 237.5)"/>
<ellipse cx="254.7" cy="206.2" rx="1.49" ry="1.30" transform="rotate(0 254.7 206.2)"/>
<ellipse cx="254.2" cy="215.5" rx="1.30" ry="0.93" transform="rotate(0 254.2 215.5)"/>
<ellipse cx="200.7" cy="248.1" rx="1.12" ry="1.30" transform="rotate(0 200.7 248.1)"/>
<ellipse cx="197.0" cy="251.6" rx="2.23" ry="1.30" transform="rotate(0 197.0 251.6)"/>
<ellipse cx="201.2" cy="247.6" rx="0.74" ry="2.05" transform="rotate(20 201.2 247.6)"/>
<ellipse cx="209.3" cy="237.5" rx="1.12" ry="1.02" transform="rotate(0 209.3 237.5)"/>
<ellipse cx="90.8" cy="271.8" rx="1.30" ry="1.12" transform="rotate(0 90.8 271.8)"/>
<ellipse cx="94.8" cy="267.8" rx="1.30" ry="0.56" transform="rotate(0 94.8 267.8)"/>
<ellipse cx="133.6" cy="358.5" rx="1.94" ry="1.25" transform="rotate(0 133.6 358.5)"/>
<ellipse cx="138.9" cy="356.7" rx="1.81" ry="1.11" transform="rotate(-40 138.9 356.7)"/>
<path d="M152.1 350.6L155.8 353.6L152.4 353.9Z"/>
<path d="M202.0 307.6L204.1 306.2L207.1 305.2L209.5 304.5L210.2 305.5L208.0 307.5L206.1 309.1L204.6 310.6L203.1 309.6Z"/>
<ellipse cx="199.4" cy="314.3" rx="1.18" ry="1.57" transform="rotate(0 199.4 314.3)"/>
<path d="M182.5 334.6L183.5 332.2L185.0 329.7L187.0 327.7L189.4 326.8L191.2 325.8L191.9 327.7L189.9 329.7L187.9 331.2L186.0 333.1L184.3 336.1L183.0 336.1Z"/>
</g>
</g>
<rect x="85.6" y="31.4" width="382.7" height="382.9" fill="none" stroke="#000" stroke-width="1.05"/>
<g clip-path="url(#mapclip2)">
<g filter="url(#soft)">
<path d="M786.3 107.8L789.1 102.2L795.6 96.7L803.9 93.9L814.1 90.2L827.0 89.3L838.1 91.1L847.4 95.7L858.5 95.7L862.2 93.0L873.3 93.3L880.7 96.7L891.9 97.0L897.4 100.4L902.0 105.0L904.8 111.5L904.8 124.4L902.0 130.9L897.4 137.4L893.7 141.1L886.3 143.9L882.6 146.7L869.6 147.6L854.8 148.5L849.3 151.3L847.4 155.9L849.3 163.3L854.8 168.0L850.3 170.0L855.8 172.8L856.9 178.3L855.8 183.9L854.4 190.8L850.3 195.7L846.1 199.9L844.0 203.3L844.0 217.2L841.2 222.8L838.5 226.9L834.3 231.1L829.4 234.6L823.9 236.7L818.3 238.8L814.2 242.2L810.0 245.7L805.8 249.9L800.3 251.9L791.9 252.9L786.3 251.5L780.7 251.5L775.2 250.6L769.6 253.3L764.1 258.0L759.4 262.6L754.8 266.3L749.3 268.1L732.6 269.1L727.0 272.8L725.6 277.4L725.2 283.0L726.0 275.0L726.4 282.4L725.4 289.8L720.8 295.4L715.3 300.0L709.7 305.6L706.9 311.1L706.0 319.4L703.2 325.0L696.7 329.6L689.3 333.3L683.8 338.0L682.9 343.5L679.1 350.0L674.5 355.6L669.0 358.3L663.4 361.7L643.0 361.7L638.4 360.2L637.5 364.8L635.6 370.4L631.9 375.9L626.4 380.6L619.0 383.3L607.9 383.9L598.6 382.4L591.2 379.6L585.6 375.0L581.9 369.4L579.1 363.9L578.6 356.5L579.1 349.1L581.0 342.6L583.8 338.0L589.3 334.3L596.7 331.5L604.1 329.6L611.6 329.6L619.9 331.5L624.5 328.7L626.4 323.1L629.1 316.7L633.8 311.1L639.3 309.3L644.9 306.5L644.9 297.2L648.6 292.6L654.1 286.1L659.7 280.6L663.4 275.0L660.4 279.3L663.1 273.7L665.0 266.3L664.1 260.7L658.5 256.1L655.7 251.5L655.7 233.0L658.5 227.4L665.9 220.9L675.2 215.4L683.5 213.5L689.1 207.0L691.9 199.6L695.6 195.0L703.0 190.4L710.4 188.5L736.3 187.6L740.9 183.0L749.3 181.1L760.4 180.2L764.1 174.6L764.1 170.7L767.8 166.1L771.5 161.5L776.1 157.8L777.0 151.3L779.8 144.8L783.5 140.2L782.6 135.6L783.5 128.1L786.3 120.7Z" fill="#ffe6b8"/>
<path d="M875.2 129.1L880.7 128.1L886.3 130.9L893.7 132.8L894.6 137.4L891.9 142.0L884.4 143.9L882.6 146.7L878.0 145.7L876.1 139.3L875.2 133.7Z" fill="#dcffc8"/>
<path d="M866.9 144.8L872.4 144.4L872.4 147.0L866.9 147.4Z" fill="#dcffc8"/>
<path d="M811.3 143.9L821.5 146.7L827.0 148.1L825.6 155.0L820.6 161.5L824.3 164.3L832.6 167.0L840.0 172.6L840.0 177.2L835.0 179.0L829.4 180.4L825.3 181.1L821.1 183.9L818.3 189.4L814.2 191.5L808.6 192.2L805.8 193.6L800.3 195.0L794.7 192.9L791.9 189.4L787.8 188.1L780.8 189.4L775.3 188.8L772.5 186.0L773.3 183.0L778.0 180.0L784.4 176.3L795.6 172.6L797.4 167.0L800.2 162.4L799.3 157.8L802.0 154.1L807.6 150.4Z" fill="#dcffc8"/>
<path d="M737.2 185.7L740.9 183.0L751.1 182.0L758.5 183.0L759.4 186.7L753.0 188.5L743.7 188.5Z" fill="#dcffc8"/>
<path d="M746.5 209.8L750.2 208.0L754.8 208.9L758.5 211.7L754.8 214.4L749.3 214.4Z" fill="#dcffc8"/>
<path d="M740.0 259.8L743.7 255.2L749.3 251.5L751.1 247.8L758.5 246.9L765.9 248.7L773.3 250.6L769.6 253.3L764.1 257.0L759.4 261.7L751.1 262.6L743.7 262.6Z" fill="#dcffc8"/>
<path d="M775.2 249.6L780.7 246.9L788.1 245.9L790.9 248.7L788.1 252.4L780.7 251.9Z" fill="#dcffc8"/>
<path d="M578.6 352.8L581.0 350.9L586.6 350.9L589.3 354.6L589.7 360.2L586.6 364.3L581.0 364.3L578.6 362.0Z" fill="#dcffc8"/>
<path d="M797.4 170.7L802.0 166.1L803.9 163.3L809.4 163.3L813.1 167.0L816.9 170.7L817.8 173.5L813.1 176.3L812.2 180.9L806.7 181.9L803.9 178.1L799.3 174.4Z" fill="#96ff96"/>
<path d="M802.0 170.7L804.8 166.1L808.5 165.6L811.3 168.9L813.1 171.7L810.4 173.5L805.7 174.1Z" fill="#64ffff"/>
<path d="M806.7 168.0L808.9 168.0L808.9 171.7L807.0 171.1Z" fill="#00bfff"/>
</g>
<line x1="618.6" y1="31" x2="618.6" y2="415" stroke="#000" stroke-opacity="0.28" stroke-width="1"/>
<line x1="682.4" y1="31" x2="682.4" y2="415" stroke="#000" stroke-opacity="0.28" stroke-width="1"/>
<line x1="746.2" y1="31" x2="746.2" y2="415" stroke="#000" stroke-opacity="0.28" stroke-width="1"/>
<line x1="810.0" y1="31" x2="810.0" y2="415" stroke="#000" stroke-opacity="0.28" stroke-width="1"/>
<line x1="873.85" y1="31" x2="873.85" y2="415" stroke="#000" stroke-opacity="0.28" stroke-width="1"/>
<line x1="555" y1="94.4" x2="939" y2="94.4" stroke="#000" stroke-opacity="0.28" stroke-width="1"/>
<line x1="555" y1="158.4" x2="939" y2="158.4" stroke="#000" stroke-opacity="0.28" stroke-width="1"/>
<line x1="555" y1="222.45" x2="939" y2="222.45" stroke="#000" stroke-opacity="0.28" stroke-width="1"/>
<line x1="555" y1="286.0" x2="939" y2="286.0" stroke="#000" stroke-opacity="0.28" stroke-width="1"/>
<line x1="555" y1="349.8" x2="939" y2="349.8" stroke="#000" stroke-opacity="0.28" stroke-width="1"/>
<g transform="translate(469.15,0)">
<g fill="none" stroke="#000" stroke-width="1.1" stroke-linejoin="round" stroke-linecap="round">
<path d="M217.5 71.0L218.4 69.9L219.6 68.9L220.6 68.1L221.7 67.7L223.1 67.2L224.5 66.6L226.1 66.8L227.3 66.3L229.0 66.4L230.3 66.0L231.9 65.6L233.2 65.5L234.3 65.2L235.7 65.3L237.1 65.0L238.7 64.7L239.7 63.6L240.5 62.8L241.8 62.1L242.7 61.3L243.8 60.1L245.0 59.3L245.8 58.2L247.0 57.3L248.4 56.5L250.0 55.9L251.1 55.6L252.3 55.0L253.7 54.9L255.4 54.7L256.9 54.4L258.2 54.4L259.5 53.7L261.0 53.3L262.2 52.6L263.4 52.0L265.1 52.0L266.5 51.4L267.7 51.4L268.9 51.0L270.4 50.6L271.7 50.9L273.1 50.6L274.7 50.8L275.9 50.5L277.2 49.4L278.4 48.0L279.7 47.3L281.4 47.0L283.3 46.2L284.3 45.8L285.7 45.5L287.3 44.9L288.4 44.5L289.9 43.9L291.6 43.3L292.8 42.6L293.8 40.9L294.8 39.9L295.7 38.5L297.2 37.6L298.8 37.0L300.2 34.6L298.9 32.6L297.6 32.5L296.0 32.4L294.7 32.4L293.2 33.4L292.1 33.7L291.3 35.5" stroke-width="1.17"/>
<path d="M227.5 59.6L233.1 60.3L238.6 59.9L243.5 59.9" stroke-width="1.08"/>
<path d="M238.6 91.8L240.7 90.0L244.9 89.4L248.3 91.1L249.0 93.9L247.6 97.4L244.9 99.4L242.1 99.7L239.7 97.8L238.9 94.6Z" stroke-width="1.08"/>
<path d="M346.7 31.7L347.1 33.1L347.8 35.1L347.3 36.6L346.8 38.2L346.2 39.6L345.7 41.0L344.7 42.7L344.4 43.7L344.0 45.1L343.5 46.9L342.9 48.5L342.0 50.1L340.8 51.2L339.8 52.1L338.5 52.8L337.7 54.0L336.7 54.8L335.6 55.6L334.3 56.4L333.3 57.2L332.2 58.4L331.2 59.6L330.5 60.5L329.4 62.0L328.4 62.9L327.0 64.1L326.0 65.3L325.1 66.8L324.2 67.8L323.0 69.2L321.8 70.3L321.2 71.6L320.3 72.7L319.2 74.0L318.4 75.3L317.8 76.1L316.7 77.4L316.0 78.1L314.9 79.2L314.1 80.5L312.8 81.5L312.1 82.5L310.8 83.5L309.6 84.1L308.8 85.2L307.5 86.1L306.4 87.0L305.4 87.5L304.1 88.4L303.0 89.3L301.8 90.1L300.7 91.1L299.7 91.8L298.8 92.9L297.7 93.9L296.8 94.7L295.8 95.5L294.8 96.5L293.4 97.8L292.3 98.7L291.3 99.8L289.9 100.8L289.0 102.2L287.8 103.3L286.8 104.4L285.9 105.7L284.8 107.0L283.9 108.1L282.8 109.3L281.7 110.6L280.5 111.4L279.4 112.4L278.4 113.2L277.4 113.8L276.1 114.9" stroke-width="1.08"/>
<path d="M345.3 40.0L344.2 44.6" stroke-width="1.98"/>
<path d="M355.4 92.1L356.4 91.1L357.4 92.1L356.4 93.1Z" stroke-width="1.08"/>
<path d="M347.4 31.7L347.8 35.6L346.4 39.7L344.6 43.9L343.6 48.1L341.8 50.8L337.6 53.6L333.5 57.1L330.0 60.3" stroke-width="1.08"/>
<path d="M368.6 31.7L368.6 33.0L368.2 34.7L368.0 36.1L367.6 37.9L367.4 39.6L366.7 41.2L366.3 42.2L365.9 43.7L365.1 44.9L364.7 46.0L365.3 47.5L365.3 48.7L366.5 50.1L367.4 51.5L368.0 52.7L368.3 54.3L368.4 55.6L368.1 57.4L367.3 59.4L366.8 61.1L365.7 62.5L365.8 64.1L366.1 65.3L366.4 67.0L366.0 68.1L365.1 69.8L364.8 71.1L364.3 72.2L364.3 73.7L363.9 75.3L364.3 76.6L364.3 78.1L364.5 79.5L365.5 80.8L366.4 82.7L367.7 82.4L368.7 80.8L369.4 79.2L370.0 77.8L370.7 76.4L371.5 75.1L372.2 73.8L373.0 72.6L374.3 72.2L375.9 72.0L377.4 72.4L379.5 72.6L380.8 73.0L382.1 73.5L383.1 74.6L384.2 76.0L384.2 77.4L384.5 78.7L384.6 79.9L384.7 81.2L385.4 79.7L386.2 77.8L386.1 76.3L386.4 74.5L385.7 72.8L385.2 71.4L382.6 71.0L380.6 69.8L380.4 68.0L379.6 66.6L378.7 65.2L377.7 64.0L376.5 63.0L375.0 61.9L374.3 60.7L373.8 59.6L373.2 58.3L373.0 56.6L372.8 55.0L373.3 53.7L373.8 52.4L374.1 50.8L374.9 49.3L375.4 48.1L375.7 46.8L376.7 45.6L377.3 44.5L377.8 43.2L379.0 42.1L380.1 41.0L381.8 40.3L383.5 39.5L384.8 39.2L386.1 39.2L387.5 39.3L389.1 39.5L390.5 39.8L391.8 39.8L393.1 40.8L394.1 41.5L395.3 42.0L396.5 42.9L397.4 43.7L398.8 44.5L400.0 46.2L401.1 47.3L400.3 46.3L399.6 45.1L398.8 43.7L397.5 42.9L396.7 42.0L395.6 40.9L394.9 39.6L394.7 38.4L394.2 36.9L393.8 35.6L393.3 34.2L393.1 32.9L392.7 31.8" stroke-width="1.08"/>
<path d="M381.1 70.3L383.5 72.4L384.4 76.5" stroke-width="1.80"/>
<path d="M355.3 92.1L356.4 91.0L357.5 92.1L356.4 93.2Z" stroke-width="1.17"/>
<path d="M409.9 109.9L413.3 106.4L417.5 102.2L421.0 100.8L424.4 101.5L421.7 102.9L418.2 105.7L414.7 108.5L411.9 111.2L409.9 110.6Z" stroke-width="1.35"/>
<path d="M428.6 100.8L432.1 98.1L435.6 95.3L439.7 92.5L441.1 89.7L443.2 91.1L448.1 89.0L451.5 87.6L454.3 88.3L452.9 90.4L448.1 91.8L443.9 93.2L439.7 95.3L435.6 98.1L432.1 100.1L429.3 101.5Z" stroke-width="1.44"/>
<path d="M460.6 86.2L463.3 84.2L466.8 82.5L468.9 81.7L468.9 84.2L465.4 86.2L461.9 87.6Z" stroke-width="1.35"/>
<path d="M85.0 158.1L85.8 157.4L87.7 157.3L88.6 156.1L89.6 156.1L90.5 154.8L91.4 153.9L93.0 152.6L93.9 151.8L94.8 150.8L95.2 149.8L96.6 148.2L97.3 147.8L98.8 146.8L100.0 146.5L101.5 146.6L102.6 146.2L104.7 145.8L106.2 146.4L107.6 146.2L109.2 145.2L111.1 147.4L112.0 148.0L113.3 148.3L113.6 150.4L114.3 151.9L113.4 152.7L112.8 154.0L111.7 155.6L111.3 156.4L110.1 157.5L109.5 158.1L108.3 158.5L107.4 159.8L106.1 161.0L104.3 161.5L104.1 163.0L103.0 164.6L104.3 165.6L106.3 165.9L107.7 165.9L109.4 166.0L107.6 166.8L106.3 168.6L105.8 170.0L107.9 170.2L109.3 168.8L107.9 169.7L106.8 170.7L105.6 171.7L104.5 172.9L103.3 173.1L101.6 173.8L99.5 172.9L99.9 171.5L102.1 171.1L103.1 171.3L104.8 170.7L105.6 170.1L107.5 169.7L109.7 169.5L110.8 167.9L111.2 167.8L113.1 166.8L114.2 165.4L115.5 165.3L117.2 164.3L118.8 163.2L119.4 162.5L121.1 162.4L122.9 162.1L124.0 161.8L125.2 161.2L126.3 161.1L127.8 161.1L129.6 160.4L130.5 160.2L132.3 160.5L133.3 159.8L135.0 160.1L136.3 159.7L137.9 159.4L139.0 159.1L141.0 158.6L141.9 159.5L142.4 160.3L144.8 161.4L145.9 161.5L147.5 162.3L148.8 162.2L150.4 163.0L151.8 162.9L153.6 164.0L156.0 162.4L156.8 164.9L155.5 165.5L154.9 166.6L154.6 168.0L153.9 169.8L153.4 171.7L153.1 172.8L154.5 173.7L156.7 174.8L154.6 174.6L153.0 175.3L151.3 174.7L150.2 176.1L149.9 177.6L149.1 179.4L148.6 180.5L146.5 181.6L145.6 181.2L147.3 181.8L148.8 181.9L149.3 183.0L150.1 184.7L152.1 185.2L153.5 186.0L154.3 186.1L156.1 185.3L156.8 184.8L158.8 185.2L160.4 184.7L162.8 185.1L164.1 186.5L165.8 185.5L166.5 185.2L168.7 187.4L169.9 188.3L171.0 188.1L172.6 189.3L173.0 190.2" stroke-width="1.26"/>
<path d="M148.2 151.5L153.3 149.9" stroke-width="1.80"/>
<path d="M235.0 117.5L233.9 118.4L232.7 119.7L232.1 120.7L231.0 121.5L229.8 122.6L229.2 123.7L228.0 124.3L226.6 124.7L225.5 124.8L224.0 125.2L221.9 124.6L222.2 125.8L222.4 127.2L221.2 127.7L219.6 128.7L218.2 129.1L216.7 130.3L215.5 131.4L214.3 132.3L212.9 132.8L211.7 133.9L210.8 134.8L209.9 136.0L209.4 137.3L208.7 138.5L209.4 139.6L210.1 141.0L209.8 142.4L209.6 143.8L209.2 145.2L208.5 146.8L207.3 147.3L205.8 148.3L204.4 148.6L203.2 149.7L201.9 150.4L200.3 151.7L199.0 152.6L197.3 153.3L195.9 154.2L194.9 155.3L193.5 156.1L192.1 157.1L190.2 157.7L188.9 157.8L187.1 158.5L185.2 159.1L183.5 159.7L182.3 161.3L181.2 162.5L180.8 164.3L180.9 166.0L181.4 167.4L182.4 168.9L183.2 169.4L184.5 170.3L185.8 170.8L186.7 172.0L188.0 172.7L189.1 173.9L190.2 174.9L191.4 176.0L192.8 177.4L193.5 178.5L194.6 179.9L195.2 181.6L196.3 182.9L197.2 184.3L198.2 185.4L198.8 186.6L200.0 187.8L200.6 188.7L201.6 189.7" stroke-width="1.17"/>
<path d="M285.8 105.0L284.7 105.8L284.0 107.1L282.8 107.8L282.3 109.0L281.0 109.4L280.5 110.8L279.3 111.2L278.7 112.3L277.7 113.4L276.3 114.1L274.9 115.0L273.3 116.3L272.3 116.6L270.7 117.4L269.7 118.1L268.2 118.7L267.4 119.8L265.8 120.2L265.0 120.5L263.8 121.2L262.3 121.8L260.9 122.0L259.4 122.5L258.0 122.9L256.6 123.0L255.0 123.3L253.9 123.3L252.7 123.9L251.1 123.1L249.7 122.6L248.1 122.3L246.7 122.1L245.6 121.6L244.2 121.4L243.3 120.8L242.1 119.3L242.4 118.1L243.0 116.6L241.3 116.8L239.4 116.3L238.1 117.4L237.2 118.5L235.7 118.3L233.9 119.1L232.6 119.7L232.1 120.5L231.2 121.5L230.0 122.4L228.7 123.8L227.3 124.3L226.1 124.3L224.4 124.3L223.1 124.7L222.4 126.1L221.1 127.4L219.9 127.9L219.0 128.5L218.0 129.3L216.4 130.4L214.8 131.4" stroke-width="1.17"/>
<path d="M362.8 95.0L363.3 96.4L363.7 97.7L363.4 99.2L362.8 100.7L362.3 101.8L362.0 103.2L361.8 104.7L361.5 106.4L361.0 108.6L359.7 109.0L358.4 109.7L357.8 112.2L358.0 113.8L358.2 114.9L357.8 116.7L355.2 117.3L353.6 117.1L352.0 116.9L350.5 116.8L348.9 116.9L347.5 116.3L346.4 115.1L344.8 116.3L346.7 118.4L345.8 119.3L344.9 120.7L343.8 121.5L342.4 122.4L341.4 123.3L339.9 124.0L338.4 125.3L339.0 127.0L338.0 129.1L338.9 129.9L340.2 130.7L341.1 131.6L342.3 132.3L341.7 134.4L340.6 136.8L341.0 139.4L342.9 140.3L343.8 139.5L345.2 138.6L346.2 137.5L346.9 136.3L348.3 135.8L349.7 135.6L351.5 135.8L353.1 135.7L355.4 135.0L354.1 134.1L352.5 133.2L351.6 132.1L350.4 131.1L348.8 130.7L347.6 130.6L345.2 129.4L344.6 127.5L345.5 125.9L348.0 125.3L349.4 125.9L350.7 126.3L351.7 127.3L352.6 128.2L354.9 127.0L356.0 126.2L357.1 125.4L358.7 124.6L360.3 124.5L362.1 124.4L363.6 124.6L365.1 125.5L366.3 126.1L367.3 126.7L368.7 127.4L370.1 128.1L371.0 128.7L372.6 129.3L373.5 129.5L374.8 130.0L376.3 130.9L377.5 131.4L378.7 131.7L380.1 132.4L382.0 133.2L382.5 132.1L383.1 130.7L383.7 129.5L384.2 128.0L385.2 127.0L386.0 125.9L386.4 124.8L387.9 123.8L389.3 122.6L391.0 121.4L392.8 120.4L394.6 120.0L396.1 119.5L398.3 119.9L399.9 119.7L401.7 119.7L403.2 119.4L404.9 119.0L406.5 118.5L407.9 117.5L409.5 116.9L411.5 116.9L412.7 116.1L414.1 115.1L412.5 115.2L410.7 115.4L409.8 114.4L408.6 113.4L409.3 112.1L407.7 111.3L406.1 109.6L406.5 108.0L407.1 106.8L407.9 105.5L408.4 104.2L409.2 103.1L407.6 104.0L406.0 104.7L404.9 105.7L403.4 106.6L402.6 107.5L400.6 107.7L399.2 108.2L397.6 107.7L396.2 107.5L395.0 106.5L393.5 105.6L391.9 105.3L389.7 105.0L387.8 104.3L386.3 104.0L385.0 103.0L383.5 102.4L382.2 101.4L381.1 100.5L379.9 100.1L378.7 99.2L377.6 98.4L376.3 97.7L375.4 97.0L374.6 95.9L373.6 95.1" stroke-width="1.12"/>
<path d="M407.5 111.6L409.9 116.2L414.0 115.0" stroke-width="1.80"/>
<path d="M387.0 104.1L393.6 105.9L397.3 107.8" stroke-width="1.62"/>
<path d="M320.9 192.0L322.3 189.8L323.6 188.7L324.8 187.2L326.2 186.3L327.5 185.3L328.6 184.7L329.8 184.0L331.3 183.5L332.2 182.4L333.0 181.5L333.8 179.9L334.5 178.5L335.0 176.7L336.0 175.0L336.6 174.2L337.2 172.9L338.0 171.9L339.0 170.5L339.2 169.3L340.0 168.1L340.6 166.5L341.4 164.8L341.5 163.4L341.8 161.6L341.4 160.0L340.8 158.5L340.4 156.7L339.9 155.4L339.6 154.1L339.5 152.8L339.3 151.2L339.0 150.0L340.2 149.0L340.8 148.2L343.2 147.0L344.2 144.9L345.1 143.0L347.0 142.5L348.3 144.5L349.0 145.5L349.9 146.8L351.6 147.0L352.6 144.6L351.3 142.9L351.8 141.4L352.1 140.0L353.5 139.1L354.7 140.0L356.2 140.5L357.6 140.6L359.1 140.6L358.8 141.9L358.5 143.5L358.1 145.2L358.4 146.8L358.5 148.2L359.2 149.2L359.8 150.6L361.0 151.2L361.8 152.3L362.9 153.7L363.8 154.9L364.9 156.5L365.1 158.2L365.9 159.8L366.3 161.5L366.7 163.1L366.3 164.4L366.4 165.8L365.9 167.3L365.5 168.4L364.5 169.5L363.8 170.7L362.6 171.6L361.4 172.7L360.5 173.8L359.4 174.7L360.5 176.9L360.3 178.4L360.0 179.7L358.4 178.6L355.9 179.0L354.6 179.8L353.8 180.8L352.5 183.2L352.7 184.6L352.9 186.0L353.3 187.9L353.6 189.6L354.2 192.0" stroke-width="1.17"/>
<path d="M351.7 147.1L354.0 146.6L355.8 144.8L356.8 142.0L357.2 140.6" stroke-width="1.08"/>
<path d="M353.1 142.0L354.6 143.8L354.0 145.7" stroke-width="0.99"/>
<path d="M338.2 158.8L341.4 159.3" stroke-width="2.34"/>
<path d="M364.7 156.9L366.3 162.9L365.6 168.1L361.9 172.2L359.9 175.0L360.2 179.5" stroke-width="1.98"/>
<path d="M333.8 179.5L333.3 182.0L332.0 182.8L330.9 183.7L329.7 184.3L328.3 185.1L327.0 186.0L325.9 187.2L325.1 188.2L324.2 189.1L323.4 190.3L322.2 191.5L320.5 192.7L319.7 193.3L318.0 193.9L316.8 194.6L315.9 195.2L314.6 195.7L313.5 196.1L311.7 196.5L310.1 197.0L308.7 197.2L307.3 197.7L305.9 199.2L304.3 199.2L303.2 199.5L301.7 197.6L302.2 196.0L300.3 194.8L298.8 193.0L299.7 191.1L301.2 191.1L302.4 190.7L303.8 190.1L305.5 189.8L306.9 189.8L305.1 191.6L303.5 193.2L301.9 194.4L300.2 194.7L298.9 193.8L298.9 195.1L299.1 196.8L298.7 198.4L298.2 199.7L297.1 200.7L296.1 202.2L294.8 203.4L293.1 204.8L292.2 205.8L291.0 206.4L290.1 207.6" stroke-width="1.17"/>
<path d="M318.4 185.6L319.1 182.8L320.3 180.9L322.1 180.5L322.6 182.8L321.2 184.7L319.3 186.1Z" stroke-width="1.35"/>
<path d="M354.2 179.5L353.4 180.9L352.4 182.1L353.1 183.0L353.1 184.7L354.0 185.8L354.3 187.6L354.4 189.5L354.7 191.0L354.3 192.6L354.0 194.1L353.5 195.5L353.2 196.8L351.5 198.1L350.7 199.7L350.3 201.1L349.4 202.2L348.4 204.0L348.5 205.3L348.1 206.6L348.9 208.1L349.2 209.2L350.0 210.9L350.9 212.2L351.5 213.5L350.4 212.6L348.9 212.0L348.2 213.1L347.4 214.2L346.1 216.5L346.0 218.8L344.0 219.9L341.9 220.9L340.4 222.6L338.3 223.1L337.5 222.3L336.4 221.1L336.5 219.4L336.1 218.3L337.0 215.7L337.8 215.0L339.0 214.0L341.0 213.7L342.3 214.8L341.0 215.8L340.0 216.3L338.4 218.2L337.8 220.3" stroke-width="1.17"/>
<path d="M336.1 218.2L333.6 217.4L331.4 218.0L329.5 219.6L328.9 220.7L328.9 222.3L328.1 223.8L328.2 225.0L326.4 226.5L324.9 224.9L324.4 223.1L323.7 221.0L321.7 220.4L320.9 221.4L320.1 222.5L319.3 223.8L318.3 224.4L317.3 226.4L314.9 225.8L313.3 226.3L311.4 226.4L309.8 226.0L307.7 226.3L306.1 227.0L304.8 227.1L303.6 226.8L302.2 226.0L301.4 224.7L301.0 224.1L301.0 221.2L299.6 220.9L298.6 223.1L297.2 224.4L296.7 226.7L298.9 227.8L300.4 228.7L301.3 231.0L299.0 231.1L297.5 231.6L295.8 231.6L294.5 232.4L293.2 233.3L292.4 234.5L292.0 235.6L291.5 236.8" stroke-width="1.26"/>
<path d="M301.0 222.4L302.6 225.2L306.3 225.8L310.9 225.4" stroke-width="2.34"/>
<path d="M336.6 217.2L337.5 221.0L339.3 222.4" stroke-width="1.98"/>
<path d="M289.5 211.2L290.9 212.6L290.5 214.0" stroke-width="1.17"/>
<path d="M289.5 216.8L291.9 217.2L292.3 218.6L290.5 219.6" stroke-width="1.17"/>
<path d="M206.5 199.5L205.6 202.8L205.1 205.6L206.5 208.4L207.4 210.2L206.5 213.0L205.6 215.8L204.2 218.2L202.3 220.0L200.0 221.2" stroke-width="1.26"/>
<path d="M224.7 230.7L224.9 230.0L226.4 230.0L228.1 230.0L229.1 228.8L230.5 228.1L232.1 227.4L233.2 226.6L234.6 226.1L235.8 225.1L236.8 224.3L238.3 223.8L239.2 223.0L240.5 221.8L241.7 220.8L243.3 219.9L244.2 219.1L245.5 218.4L246.6 217.5L247.7 216.5L249.4 215.7L250.7 215.3L252.3 215.2L253.9 215.6L256.1 215.4L257.5 215.0L259.3 214.8L260.6 214.8L262.2 214.6L263.5 214.6L264.5 214.3L266.3 214.4L267.3 214.1L269.1 213.8L270.3 213.6L271.5 213.6L273.2 213.1L274.3 212.8L276.4 212.8L278.1 212.4L280.1 213.1L279.8 214.9L281.8 215.6L283.4 215.3L284.8 214.7L286.3 214.3L287.7 214.1L288.7 212.8L290.1 212.1L289.6 209.7L289.9 208.8L290.7 207.3L291.9 206.3L292.9 205.1L294.5 204.0L295.7 202.9L297.2 201.6L298.1 200.1" stroke-width="1.26"/>
<path d="M224.7 230.7L224.3 233.2L225.3 235.1L228.2 234.9L229.3 235.1L230.7 234.9L232.9 235.1L234.3 235.1L235.7 235.5L237.0 235.0L239.0 235.3L240.2 235.9L242.2 235.6L243.9 235.1L244.9 234.1L242.8 232.8L241.4 232.1L242.7 230.0L245.1 230.0L245.7 232.3L244.9 234.0L246.7 232.9L248.1 232.4L249.3 231.4L250.9 230.7L252.3 230.5L254.2 229.7L255.2 229.5L256.8 229.6L258.4 229.1L259.8 228.6L260.7 228.1L262.7 228.0L263.6 227.3L265.3 226.9L267.1 225.6L268.9 225.4L270.5 224.7L272.9 225.4L274.8 225.7L276.5 226.8L278.4 225.8L279.7 225.7L281.1 225.5L282.4 227.3L281.5 228.7L280.3 229.5L279.4 230.1L276.7 230.8L277.5 231.9L279.0 233.1L278.1 234.4L277.8 235.6L278.7 236.6L280.0 237.7L281.1 238.7L282.2 240.1L284.2 241.0L285.7 242.0L287.8 241.1L288.9 239.8L289.9 238.6L290.7 237.1L291.5 235.9L292.3 234.5L292.8 233.0L294.7 232.0L295.9 231.2L297.2 231.2L298.6 230.7L300.4 230.0" stroke-width="1.26"/>
<path d="M262.4 227.9L265.2 227.5L268.0 228.4" stroke-width="2.34"/>
<path d="M268.9 225.0L273.6 225.3" stroke-width="1.80"/>
<path d="M274.0 228.4L276.4 226.8L279.1 226.5L278.2 228.4L275.6 230.5L274.0 230.3Z" stroke-width="1.17"/>
<path d="M288.0 222.3L288.9 219.6L290.3 216.8L292.2 216.3L292.6 218.2L290.8 220.0L289.4 221.9Z" stroke-width="1.17"/>
<path d="M300.6 221.2L297.8 222.8L296.8 225.6L298.7 227.9L300.6 228.1" stroke-width="1.35"/>
<path d="M244.2 242.4L243.5 240.9L244.1 240.1L245.4 239.6L246.3 238.5L247.8 237.4L248.2 235.7L249.5 234.8L250.8 233.7L252.1 234.5L253.2 235.5L254.6 235.3L256.0 235.3L258.4 234.2L259.1 232.8L259.7 231.7L261.0 231.2L262.4 230.2L264.0 230.2L265.2 229.5L266.5 228.7L268.1 227.8L269.3 228.4L270.7 228.8L271.9 230.5L272.6 231.6L272.9 233.2L273.3 235.0L272.9 235.8L272.4 237.1L271.0 238.6L269.6 239.4L268.2 241.0L266.7 241.6L266.6 244.2L265.7 243.5L264.3 242.7L262.9 241.7L261.6 240.9L260.0 241.0L258.6 241.2L257.4 241.9L255.6 242.8L254.6 244.0L253.6 245.4L252.9 246.8L251.6 248.5L251.5 250.7L249.8 250.9L248.2 250.6L247.8 249.8L246.6 248.2L245.9 247.6L244.9 246.8L244.0 244.2L244.0 242.2Z" stroke-width="1.35"/>
<path d="M224.7 234.9L223.1 235.4L221.1 235.6L220.1 236.4L218.5 237.2L217.6 237.5L216.2 239.4L214.5 240.0L212.6 240.3L211.9 241.3L210.4 241.6L208.8 242.4L207.2 243.0L206.3 244.2L205.2 244.6L206.6 245.3L208.1 246.2L208.5 247.2L209.1 249.2L209.4 250.6L209.6 251.2L211.0 252.9L213.2 253.9L213.7 255.7L212.2 257.3" stroke-width="1.26"/>
<path d="M225.6 234.9L226.6 237.2L227.7 238.1L228.6 239.3L230.3 239.6L231.6 239.6L232.7 240.0L234.2 241.2L233.2 242.4L232.8 243.2L233.8 244.3L234.9 245.0L235.9 245.3L237.4 245.9L237.8 247.5L238.6 248.6L237.8 249.4L237.2 250.6L236.8 251.8L235.9 252.8L235.2 254.4L234.4 255.6L233.8 257.2" stroke-width="1.35"/>
<path d="M233.8 242.4L235.1 243.2L236.3 244.2L237.3 245.1L238.5 246.5L237.9 248.2L237.7 249.3L237.5 250.3L236.5 252.0L235.8 252.7L234.6 254.2L233.9 255.8L233.1 257.2L232.8 258.3L232.3 259.9L232.0 261.4L231.7 263.0L230.9 264.2L230.6 265.5L230.3 267.8L227.7 268.1L226.6 270.1L225.5 270.7L224.5 271.2L223.2 272.0L221.9 273.4L220.6 271.9L219.5 270.0L217.8 270.4L215.5 269.6L214.3 267.9L216.3 267.3L216.8 264.7L216.6 263.8L215.9 262.7L215.2 260.9L215.0 259.8L216.4 257.7L214.7 257.7L213.4 257.2L213.1 254.9L214.8 253.4L213.5 251.6L213.2 250.3L212.0 248.6L210.9 248.1L209.9 247.5L208.3 245.6L207.6 244.8L206.5 244.4L205.0 244.1L206.2 243.5L207.6 242.1L209.3 242.2L210.3 241.2L212.1 240.7L213.0 239.5L214.9 239.4L216.8 239.0L218.4 237.8L219.6 237.4L220.9 237.1L222.4 236.1L224.8 235.9" stroke-width="1.35"/>
<path d="M221.2 263.9L222.6 264.8L223.1 267.6L222.1 269.9L220.7 268.5L220.3 266.2Z" stroke-width="1.35"/>
<path d="M204.9 244.4L206.2 243.1L208.5 242.6L209.4 244.0L208.5 245.3L209.8 246.7L208.9 248.5L210.3 249.8L209.4 251.6L210.7 252.5L212.1 251.2L211.6 249.4L210.7 247.6L211.6 245.8L213.0 247.1L213.4 249.4L213.0 251.6L214.3 253.0L213.4 254.8L212.5 256.6L213.4 257.9L214.8 257.0L216.1 255.7" stroke-width="1.35"/>
<path d="M216.1 245.3L217.9 244.4L218.8 246.2L218.4 248.5L220.2 249.8L221.5 251.6L221.1 253.9L219.7 255.2L218.4 256.6L217.0 257.9L215.7 257.5L216.6 255.7L217.9 254.3L218.8 252.5L217.9 250.7L216.6 249.4L216.1 247.6Z" stroke-width="1.26"/>
<path d="M214.3 246.7L215.7 248.5L215.2 250.7L216.6 252.5L215.7 254.3L214.3 255.2" stroke-width="1.17"/>
<path d="M205.3 243.5L208.9 244.0" stroke-width="2.70"/>
<path d="M208.5 245.8L211.2 252.1" stroke-width="1.98"/>
<path d="M219.3 250.3L220.6 253.4" stroke-width="1.80"/>
<path d="M221.1 264.6L221.8 266.0" stroke-width="2.34"/>
<path d="M226.5 275.8L225.8 278.3L224.8 281.1" stroke-width="1.98"/>
<path d="M217.9 281.4L219.6 280.2L221.3 281.1L221.1 282.7L219.4 283.4L217.9 282.7Z" stroke-width="1.17"/>
<path d="M152.3 174.5L151.2 175.7L149.3 176.8L148.8 177.7L147.7 179.4L147.1 180.4L146.8 181.1L145.2 181.5L147.0 182.6L148.4 182.5L150.5 184.5L151.5 184.3L152.3 184.6L154.1 186.3L155.4 185.5L157.2 185.4L159.0 184.0L161.0 185.2L163.1 186.0L164.0 186.4L165.5 185.8L167.5 187.5L170.1 186.9L170.4 188.0L171.5 188.9L173.6 189.8L171.0 190.6L171.5 191.9L171.4 193.4L170.6 196.2L172.3 196.2L173.6 197.3L172.2 197.4L170.5 197.7L169.9 198.1L167.3 197.6L166.8 197.6L164.5 197.8L163.9 199.8L165.0 200.5L166.3 202.2L166.7 203.9L167.4 204.5L167.7 205.6L168.1 207.4L170.2 207.6L170.6 208.7L173.7 208.5L172.0 209.5L171.8 210.6L170.3 212.4L170.2 213.7L169.0 215.1L168.3 216.6L167.4 216.9L167.3 218.9L167.1 220.4L167.5 222.0L167.2 223.0L167.6 223.9L168.7 224.8L167.9 225.8L166.7 227.7L165.4 227.8L164.8 229.1L167.5 229.4L169.5 228.9L170.4 227.1L171.2 227.6L172.8 227.5L174.0 227.1L175.8 227.0L177.5 225.8L178.2 225.7L179.9 224.9L180.9 223.9L182.4 223.8L184.5 223.9L185.8 224.2L187.3 224.0L188.5 222.9L189.8 223.1L190.8 222.8L192.9 222.5L193.9 221.3L195.0 221.0L195.4 221.7L196.8 223.4L197.0 222.4L198.3 221.2L200.0 220.9L201.8 220.5" stroke-width="1.35"/>
<path d="M150.0 183.8L153.7 186.0L157.0 184.8" stroke-width="2.07"/>
<path d="M167.2 186.2L171.0 188.0" stroke-width="1.98"/>
<path d="M164.5 198.3L166.8 202.9" stroke-width="2.52"/>
<path d="M166.8 202.9L169.6 207.6" stroke-width="1.80"/>
<path d="M169.6 214.1L167.2 218.8" stroke-width="1.80"/>
<path d="M167.2 218.8L167.2 224.3L165.8 228.5" stroke-width="2.70"/>
<path d="M165.8 229.0L169.1 229.5" stroke-width="2.52"/>
<path d="M176.6 227.1L182.1 224.8L187.7 223.6" stroke-width="2.52"/>
<path d="M193.8 222.3L195.6 223.4" stroke-width="2.52"/>
<path d="M191.5 174.5L193.3 177.8L195.2 180.6L197.5 183.4L199.8 186.2L202.2 189.4L204.0 192.2L205.4 195.0L206.2 198.3L206.4 201.5L205.9 204.8L206.2 207.6L207.1 209.0L206.8 211.3L205.9 214.1L205.0 216.0L203.6 218.3L201.7 220.6" stroke-width="1.26"/>
<path d="M85.0 190.4L86.0 189.6L88.0 188.8L88.3 187.9L89.9 186.7L91.5 186.4L92.9 186.2L94.0 185.8L95.3 185.9L97.2 185.6L98.2 186.4L99.4 187.9L100.6 188.5L102.0 188.6L103.4 189.9L103.7 190.7L105.4 190.3L107.3 190.9L108.6 190.0L110.0 189.5L110.8 189.7L112.0 189.8L113.3 190.3L115.0 191.2L116.6 191.3L118.0 191.1L120.1 191.9L118.0 193.4L117.9 195.7L117.5 197.0L116.3 197.7L115.5 198.5L114.1 197.8L112.8 197.2L111.6 197.2L108.8 197.3L108.2 197.3L106.6 198.2L105.8 198.7L103.7 198.5L102.3 199.9L101.0 200.2L99.9 201.0L98.8 201.2L97.0 202.0L95.9 203.2L95.2 203.4L94.4 204.9L94.3 207.0L92.7 207.6L90.7 207.9L89.8 207.0L87.8 207.7L89.1 209.8L87.2 211.0L84.6 211.3" stroke-width="1.44"/>
<path d="M85.0 228.1L85.9 228.5L87.8 229.9L89.2 232.0" stroke-width="1.26"/>
<path d="M85.0 228.3L86.2 229.5L87.4 229.8L88.0 231.0L88.9 232.5L89.6 233.7L90.0 235.5L90.9 236.8L92.0 239.1L92.6 240.1L93.7 241.8L94.2 243.6L95.1 245.3L96.2 247.2L97.2 248.0L97.6 249.9L97.4 252.2L98.4 252.8L99.3 253.2L101.0 254.6L102.5 255.4L102.8 256.6L103.8 257.6L104.9 258.2L106.0 258.9L106.8 259.8L108.2 261.2L109.7 262.6L109.0 264.9L107.2 266.2L104.7 266.2L103.6 265.2L102.3 264.4L100.8 263.6L99.8 263.0L97.7 262.3L96.5 260.7L94.6 259.7L92.6 259.4L91.6 260.0L90.0 260.2L88.7 260.6L86.6 260.7L85.3 261.0" stroke-width="1.26"/>
<path d="M99.0 262.7L101.8 262.7L105.0 264.1L107.8 265.5L105.9 266.4L102.7 265.5L99.9 264.1Z" stroke-width="1.17"/>
<path d="M101.3 265.0L104.6 266.9L106.9 267.4" stroke-width="1.17"/>
<path d="M109.2 266.0L108.3 268.8L109.7 271.6L109.7 273.4L107.3 274.8L104.6 275.7L101.8 277.1L99.4 278.5L97.1 280.4L95.7 282.0" stroke-width="1.17"/>
<path d="M85.0 265.8L86.4 266.0L88.3 267.4L89.2 269.7L91.1 271.1L92.0 272.5L89.7 273.9L86.9 274.3L85.0 274.2" stroke-width="1.26"/>
<path d="M89.2 281.3L92.4 280.4L94.3 281.3L99.9 281.3" stroke-width="1.80"/>
<path d="M164.1 241.8L166.0 240.6L169.3 240.1L172.5 240.4L173.9 241.8L173.0 243.6L170.2 244.7L166.9 245.3L164.6 244.4Z" stroke-width="1.26"/>
<path d="M107.8 269.5L109.7 272.8L109.2 274.7L106.4 275.6L103.2 277.0L99.9 278.4L97.1 279.3L96.2 281.2L93.8 280.7L91.5 281.0L89.2 282.1L85.0 283.5" stroke-width="1.26"/>
<path d="M92.9 281.6L93.6 283.5L95.4 284.2L97.5 283.2L98.9 282.3L100.5 282.5L101.9 281.3L104.3 283.0L105.1 283.3L106.3 285.3L107.7 285.9L108.9 286.6L111.0 286.9L112.4 285.1L110.4 284.0L113.1 284.3L115.0 285.7L112.5 287.1L110.2 288.3L109.5 289.1L108.8 289.8L107.3 290.0L106.4 291.0L105.5 291.4L104.2 293.0L106.2 292.9L107.5 292.5L109.5 291.9L110.0 293.7L110.2 295.2L108.3 296.7L106.1 295.9L104.3 297.2L105.7 299.6L107.2 300.5L105.3 302.6L103.1 302.4L104.6 304.9L105.6 305.8L105.9 308.3L104.4 307.1L102.2 307.4L100.6 306.4L98.5 307.8L99.9 310.0L99.0 310.7L97.5 310.4L94.9 310.6L93.2 310.9L93.5 311.9L94.6 314.4L93.4 316.6L93.5 318.3L92.7 319.3L91.3 320.7L90.2 322.4L89.2 323.2L88.6 324.4L86.4 325.5L84.9 327.4" stroke-width="1.35"/>
<path d="M109.4 290.0L105.0 292.3L109.4 294.4L105.3 296.8L105.9 299.8" stroke-width="2.34"/>
<path d="M92.9 311.0L93.8 316.6L90.6 322.1L86.4 325.9" stroke-width="1.35"/>
<path d="M86.4 366.8L87.1 365.5L87.4 363.9L88.2 362.8L89.0 361.6L90.0 360.6L90.7 359.4L91.6 357.8L92.5 356.5L93.7 354.9L94.6 353.7L95.3 352.2L96.3 351.5L97.1 350.4L98.2 349.4L99.4 348.9L100.4 348.2L101.6 347.5L103.2 346.3L104.6 345.8L105.8 345.9L107.1 346.9L108.4 347.5L109.9 348.1L110.5 350.0L109.4 352.1L109.4 354.1L109.8 355.8L109.3 356.7L108.4 358.1L108.0 359.0L107.2 360.4L106.5 361.8L105.6 363.5L105.5 364.9L105.2 366.1L105.0 367.5L104.5 369.0L104.1 370.4L103.8 371.5L103.0 373.1L102.5 374.4L101.6 376.0L100.9 377.1L99.7 378.0L98.8 379.1L98.0 380.5L97.5 381.6L96.8 382.6L96.7 384.2L96.5 385.6L96.5 387.1L96.3 389.5L94.4 389.0L94.0 387.5L93.6 385.5L92.7 384.0L92.1 382.6L90.6 381.9L89.1 380.7L88.4 379.4L87.7 378.2L87.2 377.3L86.9 375.7L86.5 374.4L86.2 373.1L86.3 371.5L86.5 369.7L86.7 368.2L86.4 367.0Z" stroke-width="1.17"/>
<path d="M359.2 115.0L357.8 113.3L358.5 109.9L361.2 106.4L362.6 102.2L363.3 98.1L362.2 93.9L361.2 90.4L362.6 88.3L365.4 87.2L368.2 89.0L371.7 92.5L375.8 96.7L380.7 100.8L385.6 104.3L391.1 106.1" stroke-width="1.12"/>
</g>
<g fill="#000" stroke="#000" stroke-width="0.5">
<ellipse cx="139.6" cy="91.1" rx="2.22" ry="0.97" transform="rotate(25 139.6 91.1)"/>
<ellipse cx="172.5" cy="111.4" rx="2.22" ry="1.39" transform="rotate(20 172.5 111.4)"/>
<ellipse cx="198.6" cy="108.6" rx="2.22" ry="1.11" transform="rotate(-45 198.6 108.6)"/>
<ellipse cx="426.8" cy="109.6" rx="2.50" ry="1.11" transform="rotate(-15 426.8 109.6)"/>
<ellipse cx="102.8" cy="164.7" rx="1.67" ry="1.39" transform="rotate(0 102.8 164.7)"/>
<ellipse cx="147.5" cy="117.2" rx="1.25" ry="1.11" transform="rotate(0 147.5 117.2)"/>
<ellipse cx="172.5" cy="111.5" rx="2.22" ry="1.39" transform="rotate(20 172.5 111.5)"/>
<ellipse cx="198.6" cy="108.5" rx="2.22" ry="1.25" transform="rotate(-45 198.6 108.5)"/>
<ellipse cx="180.3" cy="167.1" rx="1.11" ry="1.39" transform="rotate(0 180.3 167.1)"/>
<ellipse cx="222.8" cy="124.7" rx="1.25" ry="0.97" transform="rotate(0 222.8 124.7)"/>
<ellipse cx="227.4" cy="124.9" rx="1.11" ry="0.83" transform="rotate(0 227.4 124.9)"/>
<ellipse cx="237.2" cy="118.5" rx="1.53" ry="1.94" transform="rotate(20 237.2 118.5)"/>
<ellipse cx="223.1" cy="124.7" rx="1.39" ry="1.25" transform="rotate(0 223.1 124.7)"/>
<ellipse cx="334.0" cy="130.6" rx="0.74" ry="1.21" transform="rotate(20 334.0 130.6)"/>
<path d="M343.3 207.3L345.9 207.7L347.0 210.0L345.1 209.4Z"/>
<path d="M205.1 225.3L206.7 226.4L206.0 229.8L204.8 232.8L202.8 233.5L202.0 231.8L203.4 228.4Z"/>
<ellipse cx="209.3" cy="237.5" rx="1.21" ry="1.12" transform="rotate(0 209.3 237.5)"/>
<ellipse cx="254.7" cy="206.2" rx="1.49" ry="1.30" transform="rotate(0 254.7 206.2)"/>
<ellipse cx="254.2" cy="215.5" rx="1.30" ry="0.93" transform="rotate(0 254.2 215.5)"/>
<ellipse cx="200.7" cy="248.1" rx="1.12" ry="1.30" transform="rotate(0 200.7 248.1)"/>
<ellipse cx="197.0" cy="251.6" rx="2.23" ry="1.30" transform="rotate(0 197.0 251.6)"/>
<ellipse cx="201.2" cy="247.6" rx="0.74" ry="2.05" transform="rotate(20 201.2 247.6)"/>
<ellipse cx="209.3" cy="237.5" rx="1.12" ry="1.02" transform="rotate(0 209.3 237.5)"/>
<ellipse cx="90.8" cy="271.8" rx="1.30" ry="1.12" transform="rotate(0 90.8 271.8)"/>
<ellipse cx="94.8" cy="267.8" rx="1.30" ry="0.56" transform="rotate(0 94.8 267.8)"/>
<ellipse cx="133.6" cy="358.5" rx="1.94" ry="1.25" transform="rotate(0 133.6 358.5)"/>
<ellipse cx="138.9" cy="356.7" rx="1.81" ry="1.11" transform="rotate(-40 138.9 356.7)"/>
<path d="M152.1 350.6L155.8 353.6L152.4 353.9Z"/>
<path d="M202.0 307.6L204.1 306.2L207.1 305.2L209.5 304.5L210.2 305.5L208.0 307.5L206.1 309.1L204.6 310.6L203.1 309.6Z"/>
<ellipse cx="199.4" cy="314.3" rx="1.18" ry="1.57" transform="rotate(0 199.4 314.3)"/>
<path d="M182.5 334.6L183.5 332.2L185.0 329.7L187.0 327.7L189.4 326.8L191.2 325.8L191.9 327.7L189.9 329.7L187.9 331.2L186.0 333.1L184.3 336.1L183.0 336.1Z"/>
</g>
</g></g>
<rect x="555.65" y="31.4" width="382.95" height="382.9" fill="none" stroke="#000" stroke-width="1.05"/>
<text x="141.1" y="26.0" font-size="12.5" text-anchor="start" textLength="270.0" lengthAdjust="spacingAndGlyphs" >GSMAP_NRT_1HR estimates for 20260204 11</text>
<text x="601.3" y="26.0" font-size="12.5" text-anchor="start" textLength="290.0" lengthAdjust="spacingAndGlyphs" >Hourly Radar-AMeDAS analysis for 20260204 11</text>
<text x="61.9" y="96.9" font-size="9.8" text-anchor="start" textLength="18.8" lengthAdjust="spacingAndGlyphs" >45°N</text>
<text x="61.9" y="160.9" font-size="9.8" text-anchor="start" textLength="18.8" lengthAdjust="spacingAndGlyphs" >40°N</text>
<text x="61.9" y="224.9" font-size="9.8" text-anchor="start" textLength="18.8" lengthAdjust="spacingAndGlyphs" >35°N</text>
<text x="61.9" y="288.5" font-size="9.8" text-anchor="start" textLength="18.8" lengthAdjust="spacingAndGlyphs" >30°N</text>
<text x="61.9" y="352.3" font-size="9.8" text-anchor="start" textLength="18.8" lengthAdjust="spacingAndGlyphs" >25°N</text>
<text x="138.6" y="425.1" font-size="9.8" text-anchor="start" textLength="22.4" lengthAdjust="spacingAndGlyphs" >125°E</text>
<text x="202.6" y="425.1" font-size="9.8" text-anchor="start" textLength="22.4" lengthAdjust="spacingAndGlyphs" >130°E</text>
<text x="266.6" y="425.1" font-size="9.8" text-anchor="start" textLength="22.4" lengthAdjust="spacingAndGlyphs" >135°E</text>
<text x="330.6" y="425.1" font-size="9.8" text-anchor="start" textLength="22.4" lengthAdjust="spacingAndGlyphs" >140°E</text>
<text x="394.6" y="425.1" font-size="9.8" text-anchor="start" textLength="22.4" lengthAdjust="spacingAndGlyphs" >145°E</text>
<text x="531.0" y="96.9" font-size="9.8" text-anchor="start" textLength="18.8" lengthAdjust="spacingAndGlyphs" >45°N</text>
<text x="531.0" y="160.9" font-size="9.8" text-anchor="start" textLength="18.8" lengthAdjust="spacingAndGlyphs" >40°N</text>
<text x="531.0" y="224.9" font-size="9.8" text-anchor="start" textLength="18.8" lengthAdjust="spacingAndGlyphs" >35°N</text>
<text x="531.0" y="288.5" font-size="9.8" text-anchor="start" textLength="18.8" lengthAdjust="spacingAndGlyphs" >30°N</text>
<text x="531.0" y="352.3" font-size="9.8" text-anchor="start" textLength="18.8" lengthAdjust="spacingAndGlyphs" >25°N</text>
<text x="607.8" y="425.1" font-size="9.8" text-anchor="start" textLength="22.4" lengthAdjust="spacingAndGlyphs" >125°E</text>
<text x="671.8" y="425.1" font-size="9.8" text-anchor="start" textLength="22.4" lengthAdjust="spacingAndGlyphs" >130°E</text>
<text x="735.8" y="425.1" font-size="9.8" text-anchor="start" textLength="22.4" lengthAdjust="spacingAndGlyphs" >135°E</text>
<text x="799.8" y="425.1" font-size="9.8" text-anchor="start" textLength="22.4" lengthAdjust="spacingAndGlyphs" >140°E</text>
<text x="863.8" y="425.1" font-size="9.8" text-anchor="start" textLength="22.4" lengthAdjust="spacingAndGlyphs" >145°E</text>
<text x="561.5" y="406.9" font-size="10.8" text-anchor="start" textLength="102.5" lengthAdjust="spacingAndGlyphs" >Provided by JWA/JMA</text>
<rect x="810.4" y="271.4" width="105.0" height="103.70000000000005" fill="#fff" stroke="#000" stroke-width="1"/>
<line x1="810.4" y1="375.1" x2="915.4" y2="271.4" stroke="#000" stroke-width="1"/>
<line x1="810.4" y1="375.1" x2="810.4" y2="377.8" stroke="#000" stroke-width="0.8"/>
<line x1="810.4" y1="375.1" x2="807.6999999999999" y2="375.1" stroke="#000" stroke-width="0.8"/>
<text x="810.4" y="389.3" font-size="8.6" text-anchor="middle" textLength="4.2" lengthAdjust="spacingAndGlyphs" >0</text>
<text x="803.4" y="378.2" font-size="8.6" text-anchor="end" textLength="4.2" lengthAdjust="spacingAndGlyphs" >0</text>
<line x1="815.6" y1="375.1" x2="815.6" y2="376.90000000000003" stroke="#000" stroke-width="0.8"/>
<line x1="810.4" y1="369.9" x2="808.6" y2="369.9" stroke="#000" stroke-width="0.8"/>
<line x1="820.9" y1="375.1" x2="820.9" y2="376.90000000000003" stroke="#000" stroke-width="0.8"/>
<line x1="810.4" y1="364.7" x2="808.6" y2="364.7" stroke="#000" stroke-width="0.8"/>
<line x1="826.1" y1="375.1" x2="826.1" y2="376.90000000000003" stroke="#000" stroke-width="0.8"/>
<line x1="810.4" y1="359.5" x2="808.6" y2="359.5" stroke="#000" stroke-width="0.8"/>
<line x1="831.4" y1="375.1" x2="831.4" y2="377.8" stroke="#000" stroke-width="0.8"/>
<line x1="810.4" y1="354.4" x2="807.6999999999999" y2="354.4" stroke="#000" stroke-width="0.8"/>
<text x="831.4" y="389.3" font-size="8.6" text-anchor="middle" textLength="4.2" lengthAdjust="spacingAndGlyphs" >2</text>
<text x="803.4" y="357.5" font-size="8.6" text-anchor="end" textLength="4.2" lengthAdjust="spacingAndGlyphs" >2</text>
<line x1="836.6" y1="375.1" x2="836.6" y2="376.90000000000003" stroke="#000" stroke-width="0.8"/>
<line x1="810.4" y1="349.2" x2="808.6" y2="349.2" stroke="#000" stroke-width="0.8"/>
<line x1="841.9" y1="375.1" x2="841.9" y2="376.90000000000003" stroke="#000" stroke-width="0.8"/>
<line x1="810.4" y1="344.0" x2="808.6" y2="344.0" stroke="#000" stroke-width="0.8"/>
<line x1="847.1" y1="375.1" x2="847.1" y2="376.90000000000003" stroke="#000" stroke-width="0.8"/>
<line x1="810.4" y1="338.8" x2="808.6" y2="338.8" stroke="#000" stroke-width="0.8"/>
<line x1="852.4" y1="375.1" x2="852.4" y2="377.8" stroke="#000" stroke-width="0.8"/>
<line x1="810.4" y1="333.6" x2="807.6999999999999" y2="333.6" stroke="#000" stroke-width="0.8"/>
<text x="852.4" y="389.3" font-size="8.6" text-anchor="middle" textLength="4.2" lengthAdjust="spacingAndGlyphs" >4</text>
<text x="803.4" y="336.7" font-size="8.6" text-anchor="end" textLength="4.2" lengthAdjust="spacingAndGlyphs" >4</text>
<line x1="857.6" y1="375.1" x2="857.6" y2="376.90000000000003" stroke="#000" stroke-width="0.8"/>
<line x1="810.4" y1="328.4" x2="808.6" y2="328.4" stroke="#000" stroke-width="0.8"/>
<line x1="862.9" y1="375.1" x2="862.9" y2="376.90000000000003" stroke="#000" stroke-width="0.8"/>
<line x1="810.4" y1="323.2" x2="808.6" y2="323.2" stroke="#000" stroke-width="0.8"/>
<line x1="868.1" y1="375.1" x2="868.1" y2="376.90000000000003" stroke="#000" stroke-width="0.8"/>
<line x1="810.4" y1="318.1" x2="808.6" y2="318.1" stroke="#000" stroke-width="0.8"/>
<line x1="873.4" y1="375.1" x2="873.4" y2="377.8" stroke="#000" stroke-width="0.8"/>
<line x1="810.4" y1="312.9" x2="807.6999999999999" y2="312.9" stroke="#000" stroke-width="0.8"/>
<text x="873.4" y="389.3" font-size="8.6" text-anchor="middle" textLength="4.2" lengthAdjust="spacingAndGlyphs" >6</text>
<text x="803.4" y="316.0" font-size="8.6" text-anchor="end" textLength="4.2" lengthAdjust="spacingAndGlyphs" >6</text>
<line x1="878.6" y1="375.1" x2="878.6" y2="376.90000000000003" stroke="#000" stroke-width="0.8"/>
<line x1="810.4" y1="307.7" x2="808.6" y2="307.7" stroke="#000" stroke-width="0.8"/>
<line x1="883.9" y1="375.1" x2="883.9" y2="376.90000000000003" stroke="#000" stroke-width="0.8"/>
<line x1="810.4" y1="302.5" x2="808.6" y2="302.5" stroke="#000" stroke-width="0.8"/>
<line x1="889.1" y1="375.1" x2="889.1" y2="376.90000000000003" stroke="#000" stroke-width="0.8"/>
<line x1="810.4" y1="297.3" x2="808.6" y2="297.3" stroke="#000" stroke-width="0.8"/>
<line x1="894.4" y1="375.1" x2="894.4" y2="377.8" stroke="#000" stroke-width="0.8"/>
<line x1="810.4" y1="292.1" x2="807.6999999999999" y2="292.1" stroke="#000" stroke-width="0.8"/>
<text x="894.4" y="389.3" font-size="8.6" text-anchor="middle" textLength="4.2" lengthAdjust="spacingAndGlyphs" >8</text>
<text x="803.4" y="295.2" font-size="8.6" text-anchor="end" textLength="4.2" lengthAdjust="spacingAndGlyphs" >8</text>
<line x1="899.6" y1="375.1" x2="899.6" y2="376.90000000000003" stroke="#000" stroke-width="0.8"/>
<line x1="810.4" y1="287.0" x2="808.6" y2="287.0" stroke="#000" stroke-width="0.8"/>
<line x1="904.9" y1="375.1" x2="904.9" y2="376.90000000000003" stroke="#000" stroke-width="0.8"/>
<line x1="810.4" y1="281.8" x2="808.6" y2="281.8" stroke="#000" stroke-width="0.8"/>
<line x1="910.1" y1="375.1" x2="910.1" y2="376.90000000000003" stroke="#000" stroke-width="0.8"/>
<line x1="810.4" y1="276.6" x2="808.6" y2="276.6" stroke="#000" stroke-width="0.8"/>
<line x1="915.4" y1="375.1" x2="915.4" y2="377.8" stroke="#000" stroke-width="0.8"/>
<line x1="810.4" y1="271.4" x2="807.6999999999999" y2="271.4" stroke="#000" stroke-width="0.8"/>
<text x="915.4" y="389.3" font-size="8.6" text-anchor="middle" textLength="8.0" lengthAdjust="spacingAndGlyphs" >10</text>
<text x="803.4" y="274.5" font-size="8.6" text-anchor="end" textLength="8.0" lengthAdjust="spacingAndGlyphs" >10</text>
<text x="861.5" y="399.0" font-size="10.4" text-anchor="middle" textLength="46.0" lengthAdjust="spacingAndGlyphs" >ANALYSIS</text>
<text transform="translate(791.2,324.3) rotate(-90)" font-size="10.6" text-anchor="middle" textLength="85.3" lengthAdjust="spacingAndGlyphs">GSMAP_NRT_1HR</text>
<clipPath id="insclip"><rect x="810.4" y="271.4" width="105.0" height="103.70000000000005"/></clipPath><g clip-path="url(#insclip)">
<path d="M817.5 357.5H821.5M819.5 355.5V359.5" stroke="#000" stroke-width="0.75" fill="none"/>
<path d="M814.5 359.5H818.5M816.5 357.5V361.5" stroke="#000" stroke-width="0.75" fill="none"/>
<path d="M816.5 362.5H820.5M818.5 360.5V364.5" stroke="#000" stroke-width="0.75" fill="none"/>
<path d="M813.5 363.5H817.5M815.5 361.5V365.5" stroke="#000" stroke-width="0.75" fill="none"/>
<path d="M811.5 367.5H815.5M813.5 365.5V369.5" stroke="#000" stroke-width="0.75" fill="none"/>
<path d="M823.5 373.5H827.5M825.5 371.5V375.5" stroke="#000" stroke-width="0.75" fill="none"/>
<path d="M818.5 371.5H822.5M820.5 369.5V373.5" stroke="#000" stroke-width="0.75" fill="none"/>
<path d="M812.5 369.5H816.5M814.5 367.5V371.5" stroke="#000" stroke-width="0.75" fill="none"/>
<path d="M813.5 371.5H817.5M815.5 369.5V373.5" stroke="#000" stroke-width="0.75" fill="none"/>
<path d="M811.5 371.5H815.5M813.5 369.5V373.5" stroke="#000" stroke-width="0.75" fill="none"/>
<path d="M828.5 374.5H832.5M830.5 372.5V376.5" stroke="#000" stroke-width="0.75" fill="none"/>
<path d="M833.5 374.5H837.5M835.5 372.5V376.5" stroke="#000" stroke-width="0.75" fill="none"/>
<path d="M808.5 374.5H812.5M810.5 372.5V376.5" stroke="#000" stroke-width="0.75" fill="none"/>
<path d="M809.5 373.5H813.5M811.5 371.5V375.5" stroke="#000" stroke-width="0.75" fill="none"/>
<path d="M809.5 374.5H813.5M811.5 372.5V376.5" stroke="#000" stroke-width="0.75" fill="none"/>
<path d="M810.5 373.5H814.5M812.5 371.5V375.5" stroke="#000" stroke-width="0.75" fill="none"/>
<path d="M809.5 371.5H813.5M811.5 369.5V373.5" stroke="#000" stroke-width="0.75" fill="none"/>
<path d="M811.5 374.5H815.5M813.5 372.5V376.5" stroke="#000" stroke-width="0.75" fill="none"/>
<path d="M811.5 372.5H815.5M813.5 370.5V374.5" stroke="#000" stroke-width="0.75" fill="none"/>
<path d="M808.5 373.5H812.5M810.5 371.5V375.5" stroke="#000" stroke-width="0.75" fill="none"/>
<path d="M812.5 374.5H816.5M814.5 372.5V376.5" stroke="#000" stroke-width="0.75" fill="none"/>
<path d="M810.5 371.5H814.5M812.5 369.5V373.5" stroke="#000" stroke-width="0.75" fill="none"/>
<path d="M812.5 373.5H816.5M814.5 371.5V375.5" stroke="#000" stroke-width="0.75" fill="none"/>
<path d="M813.5 371.5H817.5M815.5 369.5V373.5" stroke="#000" stroke-width="0.75" fill="none"/>
<path d="M814.5 374.5H818.5M816.5 372.5V376.5" stroke="#000" stroke-width="0.75" fill="none"/>
<path d="M816.5 374.5H820.5M818.5 372.5V376.5" stroke="#000" stroke-width="0.75" fill="none"/>
<path d="M809.5 372.5H813.5M811.5 370.5V374.5" stroke="#000" stroke-width="0.75" fill="none"/>
<path d="M811.5 371.5H815.5M813.5 369.5V373.5" stroke="#000" stroke-width="0.75" fill="none"/>
<path d="M811.5 373.5H815.5M813.5 371.5V375.5" stroke="#000" stroke-width="0.75" fill="none"/>
<path d="M809.5 374.5H813.5M811.5 372.5V376.5" stroke="#000" stroke-width="0.75" fill="none"/>
<path d="M810.5 374.5H814.5M812.5 372.5V376.5" stroke="#000" stroke-width="0.75" fill="none"/>
<path d="M811.5 370.5H815.5M813.5 368.5V372.5" stroke="#000" stroke-width="0.75" fill="none"/>
<path d="M810.5 369.5H814.5M812.5 367.5V371.5" stroke="#000" stroke-width="0.75" fill="none"/>
<path d="M824.3 365.5H828.7M826.5 363.3V367.7" stroke="#000" stroke-width="1.15" fill="none"/>
</g>
<rect x="972.0" y="49.20" width="21.7" height="36.78" fill="#cc9944"/>
<rect x="972.0" y="85.68" width="21.7" height="36.78" fill="#ff00ff"/>
<rect x="972.0" y="122.16" width="21.7" height="36.78" fill="#dc64ff"/>
<rect x="972.0" y="158.64" width="21.7" height="36.78" fill="#9664ff"/>
<rect x="972.0" y="195.12" width="21.7" height="36.78" fill="#0064ff"/>
<rect x="972.0" y="231.60" width="21.7" height="36.78" fill="#00bfff"/>
<rect x="972.0" y="268.08" width="21.7" height="36.78" fill="#64ffff"/>
<rect x="972.0" y="304.56" width="21.7" height="36.78" fill="#96ff96"/>
<rect x="972.0" y="341.04" width="21.7" height="36.78" fill="#dcffc8"/>
<rect x="972.0" y="377.52" width="21.7" height="36.78" fill="#ffe6b8"/>
<path d="M972.0 49.2L982.85 30.6L993.7 49.2Z" fill="#000" stroke="#000" stroke-width="0.8"/>
<path d="M972.0 49.2V414.0H993.7V49.2" fill="none" stroke="#000" stroke-width="0.9" stroke-opacity="0.8"/>
<line x1="993.7" y1="49.2" x2="997.2" y2="49.2" stroke="#000" stroke-width="0.8"/>
<text x="1001.6" y="53.5" font-size="12.0" text-anchor="start" textLength="12.6" lengthAdjust="spacingAndGlyphs" >50</text>
<line x1="993.7" y1="85.7" x2="997.2" y2="85.7" stroke="#000" stroke-width="0.8"/>
<text x="1001.6" y="90.0" font-size="12.0" text-anchor="start" textLength="12.6" lengthAdjust="spacingAndGlyphs" >25</text>
<line x1="993.7" y1="122.2" x2="997.2" y2="122.2" stroke="#000" stroke-width="0.8"/>
<text x="1001.6" y="126.5" font-size="12.0" text-anchor="start" textLength="12.6" lengthAdjust="spacingAndGlyphs" >10</text>
<line x1="993.7" y1="158.6" x2="997.2" y2="158.6" stroke="#000" stroke-width="0.8"/>
<text x="1001.6" y="162.9" font-size="12.0" text-anchor="start" textLength="6.3" lengthAdjust="spacingAndGlyphs" >5</text>
<line x1="993.7" y1="195.1" x2="997.2" y2="195.1" stroke="#000" stroke-width="0.8"/>
<text x="1001.6" y="199.4" font-size="12.0" text-anchor="start" textLength="6.3" lengthAdjust="spacingAndGlyphs" >4</text>
<line x1="993.7" y1="231.6" x2="997.2" y2="231.6" stroke="#000" stroke-width="0.8"/>
<text x="1001.6" y="235.9" font-size="12.0" text-anchor="start" textLength="6.3" lengthAdjust="spacingAndGlyphs" >3</text>
<line x1="993.7" y1="268.1" x2="997.2" y2="268.1" stroke="#000" stroke-width="0.8"/>
<text x="1001.6" y="272.4" font-size="12.0" text-anchor="start" textLength="6.3" lengthAdjust="spacingAndGlyphs" >2</text>
<line x1="993.7" y1="304.6" x2="997.2" y2="304.6" stroke="#000" stroke-width="0.8"/>
<text x="1001.6" y="308.9" font-size="12.0" text-anchor="start" textLength="6.3" lengthAdjust="spacingAndGlyphs" >1</text>
<line x1="993.7" y1="341.0" x2="997.2" y2="341.0" stroke="#000" stroke-width="0.8"/>
<text x="1001.6" y="345.3" font-size="12.0" text-anchor="start" textLength="16.6" lengthAdjust="spacingAndGlyphs" >0.5</text>
<line x1="993.7" y1="377.5" x2="997.2" y2="377.5" stroke="#000" stroke-width="0.8"/>
<text x="1001.6" y="381.8" font-size="12.0" text-anchor="start" textLength="23.8" lengthAdjust="spacingAndGlyphs" >0.01</text>
<line x1="993.7" y1="414.0" x2="997.2" y2="414.0" stroke="#000" stroke-width="0.8"/>
<text x="1001.6" y="418.3" font-size="12.0" text-anchor="start" textLength="6.3" lengthAdjust="spacingAndGlyphs" >0</text>
<text x="68.6" y="446.7" font-size="10.4" text-anchor="start" textLength="143.6" lengthAdjust="spacingAndGlyphs" >Hourly fraction by occurence</text>
<rect x="74.4" y="452.8" width="131.4" height="17.8" fill="#ffe6b8" stroke="#000" stroke-width="0.6"/>
<rect x="205.4" y="452.8" width="1.5" height="17.8" fill="#6b6b45"/>
<rect x="74.4" y="479.7" width="123.9" height="17.5" fill="#ffe6b8" stroke="#000" stroke-width="0.6"/>
<rect x="198.3" y="479.7" width="9.2" height="17.5" fill="#dcffc8" stroke="#000" stroke-width="0.6"/>
<path d="M205.8 470.6L198.3 479.7M74.4 452.8V497.2" stroke="#000" stroke-width="0.7" fill="none"/>
<line x1="207.15" y1="452.3" x2="207.15" y2="497.5" stroke="#000" stroke-width="1.7"/>
<text x="47.5" y="466.1" font-size="10.4" text-anchor="start" textLength="14.7" lengthAdjust="spacingAndGlyphs" >Est</text>
<text x="47.8" y="492.8" font-size="10.4" text-anchor="start" textLength="18.0" lengthAdjust="spacingAndGlyphs" >Obs</text>
<text x="58.0" y="509.7" font-size="10.4" text-anchor="start" textLength="15.3" lengthAdjust="spacingAndGlyphs" >0%</text>
<text x="101.7" y="509.7" font-size="10.4" text-anchor="start" textLength="67.5" lengthAdjust="spacingAndGlyphs" >Areal fraction</text>
<text x="195.6" y="509.7" font-size="10.4" text-anchor="start" textLength="26.9" lengthAdjust="spacingAndGlyphs" >100%</text>
<text x="72.5" y="527.8" font-size="10.4" text-anchor="start" textLength="134.7" lengthAdjust="spacingAndGlyphs" >Hourly fraction of total rain</text>
<rect x="74.4" y="533.3" width="8.9" height="18.1" fill="#ffe6b8" stroke="#000" stroke-width="0.6"/>
<rect x="83.3" y="533.3" width="7.1" height="18.1" fill="#dcffc8" stroke="#000" stroke-width="0.6"/>
<rect x="90.4" y="533.3" width="11.1" height="18.1" fill="#96ff96" stroke="#000" stroke-width="0.6"/>
<rect x="101.5" y="533.3" width="15.7" height="18.1" fill="#64ffff" stroke="#000" stroke-width="0.6"/>
<rect x="74.4" y="560.3" width="8.9" height="17.7" fill="#ffe6b8" stroke="#000" stroke-width="0.6"/>
<rect x="83.3" y="560.3" width="74.2" height="17.7" fill="#dcffc8" stroke="#000" stroke-width="0.6"/>
<rect x="157.5" y="560.3" width="21.9" height="17.7" fill="#96ff96" stroke="#000" stroke-width="0.6"/>
<rect x="179.4" y="560.3" width="21.1" height="17.7" fill="#64ffff" stroke="#000" stroke-width="0.6"/>
<rect x="200.5" y="560.3" width="7.0" height="17.7" fill="#00bfff" stroke="#000" stroke-width="0.6"/>
<path d="M74.4 533.3V578.0M83.3 551.4L82.6 560.3M90.4 551.4L157.5 560.3M101.5 551.4L179.4 560.3M117.2 551.4L200.5 560.3M117.2 551.4L207.5 560.3" stroke="#000" stroke-width="0.7" fill="none"/>
<path d="M117.2 551.4L207.5 560.3L200.5 560.3Z" fill="#000"/>
<text x="47.5" y="546.7" font-size="10.4" text-anchor="start" textLength="14.7" lengthAdjust="spacingAndGlyphs" >Est</text>
<text x="47.8" y="573.6" font-size="10.4" text-anchor="start" textLength="18.0" lengthAdjust="spacingAndGlyphs" >Obs</text>
<text x="58.6" y="589.7" font-size="10.4" text-anchor="start" textLength="164.2" lengthAdjust="spacingAndGlyphs" >Rainfall accumulation by amount</text>
<path d="M277.5 478.6H401.3V573.2H277.5ZM339.6 478.6V573.2M277.5 526.4H401.3" fill="none" stroke="#000" stroke-width="1"/>
<text x="296.2" y="455.1" font-size="10.4" text-anchor="start" textLength="85.0" lengthAdjust="spacingAndGlyphs" >GSMAP_NRT_1HR</text>
<text x="293.7" y="470.0" font-size="10.4" text-anchor="start" textLength="29.2" lengthAdjust="spacingAndGlyphs" >&lt;0.01</text>
<text x="355.7" y="470.0" font-size="10.4" text-anchor="start" textLength="28.2" lengthAdjust="spacingAndGlyphs" >≥0.01</text>
<text x="245.9" y="506.1" font-size="10.4" text-anchor="start" textLength="29.0" lengthAdjust="spacingAndGlyphs" >&lt;0.01</text>
<text x="245.9" y="553.1" font-size="10.4" text-anchor="start" textLength="28.5" lengthAdjust="spacingAndGlyphs" >≥0.01</text>
<text transform="translate(246.3,520) rotate(-90)" font-size="10.4" text-anchor="middle" textLength="45.8" lengthAdjust="spacingAndGlyphs">ANALYSIS</text>
<text x="296.7" y="506.1" font-size="10.4" text-anchor="start" textLength="23.0" lengthAdjust="spacingAndGlyphs" >3047</text>
<text x="370.7" y="506.1" font-size="10.4" text-anchor="middle" >4</text>
<text x="308.9" y="553.1" font-size="10.4" text-anchor="middle" >6</text>
<text x="370.7" y="553.1" font-size="10.4" text-anchor="middle" >0</text>
<text x="460.4" y="454.3" font-size="10.4" text-anchor="start" textLength="393.5" lengthAdjust="spacingAndGlyphs" xml:space="preserve">Validation statistics for 20260204 11  n=3057 Valid. grid=0.25° Units=mm/hr.</text>
<line x1="457.4" y1="457.2" x2="996.8" y2="457.2" stroke="#000" stroke-width="0.9" stroke-dasharray="3.7 1.6"/>
<text x="609.1" y="475.0" font-size="10.4" text-anchor="start" textLength="46.8" lengthAdjust="spacingAndGlyphs" >ANALYSIS</text>
<text x="670.7" y="475.0" font-size="10.4" text-anchor="start" textLength="85.4" lengthAdjust="spacingAndGlyphs" >GSMAP_NRT_1HR</text>
<line x1="457.4" y1="480.3" x2="758.2" y2="480.3" stroke="#000" stroke-width="0.9" stroke-dasharray="3.7 1.6"/>
<text x="460.4" y="499.0" font-size="10.4" text-anchor="start" textLength="127.4" lengthAdjust="spacingAndGlyphs" >Num of gridpoints raining</text>
<text x="649.1" y="499.0" font-size="10.4" text-anchor="end" >6</text>
<text x="730.0" y="499.0" font-size="10.4" text-anchor="end" >4</text>
<text x="460.4" y="518.9" font-size="10.4" text-anchor="start" textLength="63.7" lengthAdjust="spacingAndGlyphs" >Average rain</text>
<text x="649.1" y="518.9" font-size="10.4" text-anchor="end" textLength="16.0" lengthAdjust="spacingAndGlyphs" >0.0</text>
<text x="730.0" y="518.9" font-size="10.4" text-anchor="end" textLength="15.6" lengthAdjust="spacingAndGlyphs" >0.0</text>
<text x="460.4" y="538.7" font-size="10.4" text-anchor="start" textLength="78.5" lengthAdjust="spacingAndGlyphs" >Conditional rain</text>
<text x="649.1" y="538.7" font-size="10.4" text-anchor="end" textLength="16.0" lengthAdjust="spacingAndGlyphs" >7.3</text>
<text x="730.0" y="538.7" font-size="10.4" text-anchor="end" textLength="15.6" lengthAdjust="spacingAndGlyphs" >3.0</text>
<text x="649.1" y="558.4" font-size="10.4" text-anchor="end" textLength="16.0" lengthAdjust="spacingAndGlyphs" >0.0</text>
<text x="730.0" y="558.4" font-size="10.4" text-anchor="end" textLength="15.6" lengthAdjust="spacingAndGlyphs" >0.0</text>
<text x="460.4" y="577.8" font-size="10.4" text-anchor="start" textLength="70.8" lengthAdjust="spacingAndGlyphs" >Maximum rain</text>
<text x="649.1" y="577.8" font-size="10.4" text-anchor="end" textLength="16.0" lengthAdjust="spacingAndGlyphs" >2.3</text>
<text x="730.0" y="577.8" font-size="10.4" text-anchor="end" textLength="15.6" lengthAdjust="spacingAndGlyphs" >1.7</text>
<text x="461.2" y="559" font-size="10.4" textLength="133.4" lengthAdjust="spacingAndGlyphs">Rain volume (mm km<tspan font-size="7" dy="-4">2</tspan><tspan dy="4">10</tspan><tspan font-size="7" dy="-4">6</tspan><tspan dy="4">)</tspan></text>
<text x="784.3" y="471.9" font-size="10.4" text-anchor="start" textLength="114.6" lengthAdjust="spacingAndGlyphs" xml:space="preserve">Mean abs error =    0.0</text>
<text x="784.3" y="488.9" font-size="10.4" text-anchor="start" textLength="88.2" lengthAdjust="spacingAndGlyphs" xml:space="preserve">RMS error =    0.1</text>
<text x="784.3" y="505.9" font-size="10.4" text-anchor="start" textLength="128.6" lengthAdjust="spacingAndGlyphs" xml:space="preserve">Correlation coeff =  0.445</text>
<text x="784.3" y="523.2" font-size="10.4" text-anchor="start" textLength="121.9" lengthAdjust="spacingAndGlyphs" xml:space="preserve">Frequency bias =  0.667</text>
<text x="784.3" y="540.2" font-size="10.4" text-anchor="start" textLength="161.5" lengthAdjust="spacingAndGlyphs" xml:space="preserve">Probability of detection =  0.000</text>
<text x="784.3" y="556.9" font-size="10.4" text-anchor="start" textLength="130.0" lengthAdjust="spacingAndGlyphs" xml:space="preserve">False alarm ratio =  1.000</text>
<text x="784.3" y="573.9" font-size="10.4" text-anchor="start" textLength="170.7" lengthAdjust="spacingAndGlyphs" xml:space="preserve">Hanssen &amp; Kuipers score = -0.001</text>
<text x="784.3" y="590.9" font-size="10.4" text-anchor="start" textLength="156.4" lengthAdjust="spacingAndGlyphs" xml:space="preserve">Equitable threat score = -0.001</text>
</svg></body></html>
